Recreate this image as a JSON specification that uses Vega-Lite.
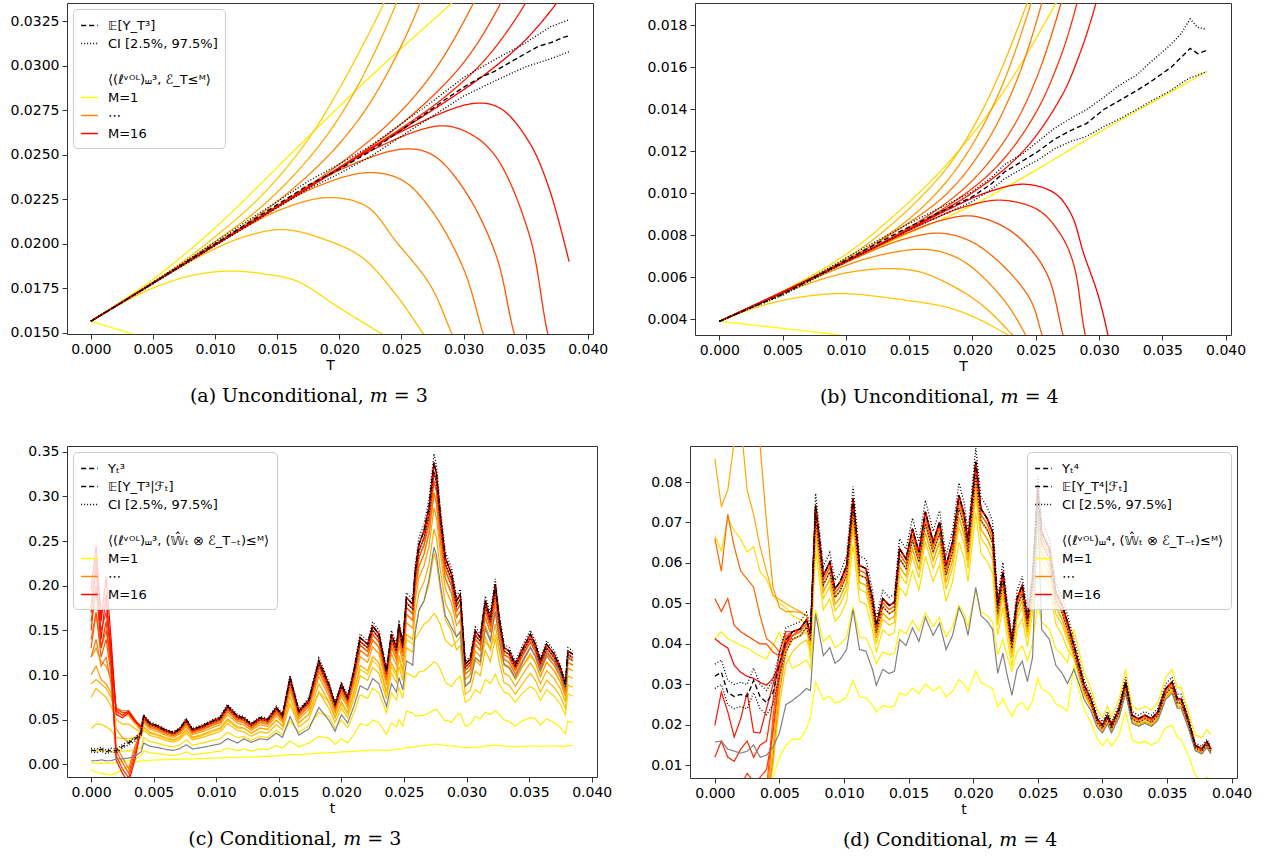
{
"$schema":"https://vega.github.io/schema/vega-lite/v6.json",
"padding":{"left":9,"top":2,"right":5,"bottom":5},
"config":{
"font":"DejaVu Sans",
"view":{"stroke":"#333333","strokeWidth":1},
"axis":{"labelFont":"DejaVu Sans","labelFontSize":14,"labelColor":"#000000","tickColor":"#333333","tickSize":5,"tickWidth":1,"labelPadding":3,"domain":false,"grid":false,"titleFont":"DejaVu Sans","titleFontSize":14,"titleFontWeight":"normal","titleColor":"#000000","titlePadding":2},
"legend":{"fillColor":"rgba(255,255,255,0.8)","strokeColor":"#cccccc","cornerRadius":4,"padding":7,"offset":6,"labelFont":"DejaVu Sans","labelFontSize":13,"labelColor":"#000000","symbolType":"stroke","symbolSize":280,"symbolStrokeWidth":1.5,"rowPadding":1,"labelLimit":400,"labelOffset":9},
"title":{"font":"DejaVu Serif","fontSize":19,"fontWeight":"normal","color":"#000000","orient":"bottom","anchor":"middle","frame":"bounds","offset":15}
},
"spacing":36,
"vconcat":[
{"hconcat":[
{"width":526,"height":331,
"title":{"text":"(a) Unconditional, 𝑚 = 3","orient":"bottom"},
"data":{"values":[
{"s":"e","t":0,"v":0.01565},{"s":"e","t":0.0025,"v":0.0167},{"s":"e","t":0.005,"v":0.0178},{"s":"e","t":0.0075,"v":0.0189},{"s":"e","t":0.01,"v":0.02},{"s":"e","t":0.0125,"v":0.0211},{"s":"e","t":0.015,"v":0.0222},{"s":"e","t":0.0175,"v":0.0233},{"s":"e","t":0.02,"v":0.0242},{"s":"e","t":0.0225,"v":0.0252},{"s":"e","t":0.025,"v":0.0264},{"s":"e","t":0.0275,"v":0.0276},{"s":"e","t":0.0285,"v":0.0281},{"s":"e","t":0.03,"v":0.0288},{"s":"e","t":0.0315,"v":0.0294},{"s":"e","t":0.0325,"v":0.0297},{"s":"e","t":0.0335,"v":0.0301},{"s":"e","t":0.035,"v":0.0307},{"s":"e","t":0.036,"v":0.0311},{"s":"e","t":0.037,"v":0.0313},{"s":"e","t":0.038,"v":0.0316},{"s":"e","t":0.0385,"v":0.0317},
{"s":"lo","t":0,"v":0.01565},{"s":"lo","t":0.0025,"v":0.01668},{"s":"lo","t":0.005,"v":0.01775},{"s":"lo","t":0.0075,"v":0.01882},{"s":"lo","t":0.01,"v":0.0199},{"s":"lo","t":0.0125,"v":0.02096},{"s":"lo","t":0.015,"v":0.02202},{"s":"lo","t":0.0175,"v":0.02308},{"s":"lo","t":0.02,"v":0.02395},{"s":"lo","t":0.0225,"v":0.0249},{"s":"lo","t":0.025,"v":0.02605},{"s":"lo","t":0.0275,"v":0.02718},{"s":"lo","t":0.03,"v":0.0283},{"s":"lo","t":0.0325,"v":0.02915},{"s":"lo","t":0.035,"v":0.02995},{"s":"lo","t":0.037,"v":0.0304},{"s":"lo","t":0.0385,"v":0.0308},
{"s":"hi","t":0,"v":0.01565},{"s":"hi","t":0.0025,"v":0.01672},{"s":"hi","t":0.005,"v":0.01785},{"s":"hi","t":0.0075,"v":0.01898},{"s":"hi","t":0.01,"v":0.0201},{"s":"hi","t":0.0125,"v":0.02124},{"s":"hi","t":0.015,"v":0.02238},{"s":"hi","t":0.0175,"v":0.02352},{"s":"hi","t":0.02,"v":0.02448},{"s":"hi","t":0.0225,"v":0.0255},{"s":"hi","t":0.025,"v":0.02675},{"s":"hi","t":0.0275,"v":0.028},{"s":"hi","t":0.03,"v":0.02935},{"s":"hi","t":0.0325,"v":0.03035},{"s":"hi","t":0.035,"v":0.0313},{"s":"hi","t":0.037,"v":0.0322},{"s":"hi","t":0.0385,"v":0.0326},
{"s":"m1","t":0,"v":0.01565},{"s":"m1","t":0.0035,"v":0.0149},{"s":"m1","t":0.006,"v":0.0144},
{"s":"m2","t":0,"v":0.01565},{"s":"m2","t":0.005,"v":0.018},{"s":"m2","t":0.01,"v":0.0209},{"s":"m2","t":0.0163,"v":0.0252},{"s":"m2","t":0.0225,"v":0.0294},{"s":"m2","t":0.029,"v":0.0335},{"s":"m2","t":0.031,"v":0.0348},
{"s":"m3","t":0,"v":0.01565},{"s":"m3","t":0.0028,"v":0.01678},{"s":"m3","t":0.0056,"v":0.01768},{"s":"m3","t":0.0084,"v":0.01826},{"s":"m3","t":0.0112,"v":0.01847},{"s":"m3","t":0.014,"v":0.0183},{"s":"m3","t":0.0166,"v":0.0179},{"s":"m3","t":0.02,"v":0.0164},{"s":"m3","t":0.0235,"v":0.0149},{"s":"m3","t":0.026,"v":0.0138},
{"s":"m4","t":0,"v":0.01565},{"s":"m4","t":0.006,"v":0.0183},{"s":"m4","t":0.01,"v":0.0204},{"s":"m4","t":0.014,"v":0.0229},{"s":"m4","t":0.018,"v":0.0264},{"s":"m4","t":0.0236,"v":0.03354},{"s":"m4","t":0.025,"v":0.0359},
{"s":"m5","t":0,"v":0.01565},{"s":"m5","t":0.0031,"v":0.017},{"s":"m5","t":0.0062,"v":0.01829},{"s":"m5","t":0.0093,"v":0.01949},{"s":"m5","t":0.0124,"v":0.02041},{"s":"m5","t":0.0155,"v":0.0208},{"s":"m5","t":0.019,"v":0.0202},{"s":"m5","t":0.0219,"v":0.0192},{"s":"m5","t":0.0246,"v":0.0171},{"s":"m5","t":0.0268,"v":0.0149},{"s":"m5","t":0.029,"v":0.0125},
{"s":"m6","t":0,"v":0.01565},{"s":"m6","t":0.005,"v":0.0178},{"s":"m6","t":0.01,"v":0.02013},{"s":"m6","t":0.014,"v":0.02225},{"s":"m6","t":0.018,"v":0.02519},{"s":"m6","t":0.021,"v":0.02827},{"s":"m6","t":0.0246,"v":0.03354},{"s":"m6","t":0.026,"v":0.0365},
{"s":"m7","t":0,"v":0.01565},{"s":"m7","t":0.0077,"v":0.01896},{"s":"m7","t":0.0115,"v":0.02055},{"s":"m7","t":0.0153,"v":0.02193},{"s":"m7","t":0.0191,"v":0.0226},{"s":"m7","t":0.0222,"v":0.0221},{"s":"m7","t":0.0246,"v":0.0201},{"s":"m7","t":0.0273,"v":0.0177},{"s":"m7","t":0.0291,"v":0.0149},{"s":"m7","t":0.031,"v":0.012},
{"s":"m8","t":0,"v":0.01565},{"s":"m8","t":0.012,"v":0.0209},{"s":"m8","t":0.016,"v":0.02294},{"s":"m8","t":0.02,"v":0.02563},{"s":"m8","t":0.023,"v":0.02852},{"s":"m8","t":0.0265,"v":0.03354},{"s":"m8","t":0.028,"v":0.037},
{"s":"m9","t":0,"v":0.01565},{"s":"m9","t":0.0089,"v":0.01948},{"s":"m9","t":0.0133,"v":0.02135},{"s":"m9","t":0.0178,"v":0.0231},{"s":"m9","t":0.0222,"v":0.024},{"s":"m9","t":0.025,"v":0.0236},{"s":"m9","t":0.0273,"v":0.022},{"s":"m9","t":0.03,"v":0.0186},{"s":"m9","t":0.0316,"v":0.0149},{"s":"m9","t":0.033,"v":0.012},
{"s":"m10","t":0,"v":0.01565},{"s":"m10","t":0.016,"v":0.02258},{"s":"m10","t":0.02,"v":0.02448},{"s":"m10","t":0.024,"v":0.02678},{"s":"m10","t":0.0275,"v":0.02958},{"s":"m10","t":0.0308,"v":0.03354},{"s":"m10","t":0.032,"v":0.0355},
{"s":"m11","t":0,"v":0.01565},{"s":"m11","t":0.0101,"v":0.01999},{"s":"m11","t":0.0151,"v":0.0221},{"s":"m11","t":0.0202,"v":0.0242},{"s":"m11","t":0.0252,"v":0.02533},{"s":"m11","t":0.0275,"v":0.025},{"s":"m11","t":0.03,"v":0.0231},{"s":"m11","t":0.0326,"v":0.0194},{"s":"m11","t":0.0341,"v":0.0149},{"s":"m11","t":0.0355,"v":0.012},
{"s":"m12","t":0,"v":0.01565},{"s":"m12","t":0.02,"v":0.0243},{"s":"m12","t":0.025,"v":0.02675},{"s":"m12","t":0.029,"v":0.02936},{"s":"m12","t":0.031,"v":0.03115},{"s":"m12","t":0.033,"v":0.03354},{"s":"m12","t":0.034,"v":0.035},
{"s":"m13","t":0,"v":0.01565},{"s":"m13","t":0.0112,"v":0.02047},{"s":"m13","t":0.0169,"v":0.02292},{"s":"m13","t":0.0225,"v":0.02523},{"s":"m13","t":0.0281,"v":0.02663},{"s":"m13","t":0.0305,"v":0.0262},{"s":"m13","t":0.0326,"v":0.0249},{"s":"m13","t":0.0353,"v":0.0205},{"s":"m13","t":0.0368,"v":0.0149},{"s":"m13","t":0.038,"v":0.012},
{"s":"m14","t":0,"v":0.01565},{"s":"m14","t":0.025,"v":0.0265},{"s":"m14","t":0.029,"v":0.02855},{"s":"m14","t":0.032,"v":0.03057},{"s":"m14","t":0.035,"v":0.03354},{"s":"m14","t":0.036,"v":0.035},
{"s":"m15","t":0,"v":0.01565},{"s":"m15","t":0.0124,"v":0.02098},{"s":"m15","t":0.0185,"v":0.02361},{"s":"m15","t":0.0247,"v":0.02621},{"s":"m15","t":0.0309,"v":0.0279},{"s":"m15","t":0.033,"v":0.0276},{"s":"m15","t":0.0353,"v":0.0257},{"s":"m15","t":0.0369,"v":0.0231},{"s":"m15","t":0.0385,"v":0.019},
{"s":"m16","t":0,"v":0.01565},{"s":"m16","t":0.028,"v":0.02774},{"s":"m16","t":0.032,"v":0.02967},{"s":"m16","t":0.035,"v":0.03147},{"s":"m16","t":0.0375,"v":0.03354},{"s":"m16","t":0.0385,"v":0.0346}
]},
"encoding":{
"x":{"field":"t","type":"quantitative","scale":{"domain":[-0.001925,0.040425],"nice":false,"zero":false},"axis":{"values":[0,0.005,0.01,0.015,0.02,0.025,0.03,0.035,0.04],"format":".3f","title":"T"}},
"y":{"field":"v","type":"quantitative","scale":{"domain":[0.01493,0.03354],"nice":false,"zero":false},"axis":{"values":[0.015,0.0175,0.02,0.0225,0.025,0.0275,0.03,0.0325],"format":".4f","title":null}},
"color":{"field":"s","type":"nominal","scale":{"domain":["e","lo","hi","sp","tt","m1","m2","m3","m4","m5","m6","m7","m8","m9","m10","m11","m12","m13","m14","m15","m16"],"range":["#000000","#000000","#000000","rgba(0,0,0,0)","rgba(0,0,0,0)","#ffff00","#ffee00","#ffdd00","#ffcc00","#ffbb00","#ffaa00","#ff9900","#ff8800","#ff7700","#ff6600","#ff5500","#ff4400","#ff3300","#ff2200","#ff1100","#ff0000"]},
"legend":{"title":null,"orient":"top-left","values":["e","lo","sp","tt","m1","m8","m16"],"labelExpr":"datum.label=='e'?'𝔼[Y_T³]':datum.label=='lo'?'CI [2.5%, 97.5%]':datum.label=='sp'?'':datum.label=='tt'?'⟨(ℓᵛᴼᴸ)⧢³, ℰ_T≤ᴹ⟩':datum.label=='m8'?'⋯':datum.label=='m1'?'M=1':datum.label=='m16'?'M=16':datum.label"}},
"strokeDash":{"field":"s","type":"nominal","scale":{"domain":["e","lo","hi","sp","tt","m1","m2","m3","m4","m5","m6","m7","m8","m9","m10","m11","m12","m13","m14","m15","m16"],"range":[[5,3],[1,2],[1,2],[1,0],[1,0],[1,0],[1,0],[1,0],[1,0],[1,0],[1,0],[1,0],[1,0],[1,0],[1,0],[1,0],[1,0],[1,0],[1,0],[1,0],[1,0]]},
"legend":{"title":null,"orient":"top-left","values":["e","lo","sp","tt","m1","m8","m16"],"labelExpr":"datum.label=='e'?'𝔼[Y_T³]':datum.label=='lo'?'CI [2.5%, 97.5%]':datum.label=='sp'?'':datum.label=='tt'?'⟨(ℓᵛᴼᴸ)⧢³, ℰ_T≤ᴹ⟩':datum.label=='m8'?'⋯':datum.label=='m1'?'M=1':datum.label=='m16'?'M=16':datum.label"}}
},
"layer":[
{"transform":[{"filter":{"field":"s","oneOf":["m1","m2","m3","m4","m5","m6","m7","m8","m9","m10","m11","m12","m13","m14","m15","m16"]}}],"mark":{"type":"line","clip":true,"interpolate":"catmull-rom","strokeWidth":1.3}},
{"transform":[{"filter":{"field":"s","oneOf":["lo","hi","e"]}}],"mark":{"type":"line","clip":true,"strokeWidth":1.4}}
]},
{"width":536,"height":332,
"title":{"text":"(b) Unconditional, 𝑚 = 4","orient":"bottom","dx":-7},
"data":{"values":[
{"s":"e","t":0,"v":0.0039},{"s":"e","t":0.0025,"v":0.00455},{"s":"e","t":0.005,"v":0.00518},{"s":"e","t":0.0075,"v":0.00598},{"s":"e","t":0.01,"v":0.00682},{"s":"e","t":0.0125,"v":0.00762},{"s":"e","t":0.015,"v":0.0084},{"s":"e","t":0.0175,"v":0.00912},{"s":"e","t":0.0199,"v":0.0098},{"s":"e","t":0.0215,"v":0.01045},{"s":"e","t":0.0225,"v":0.011},{"s":"e","t":0.024,"v":0.01155},{"s":"e","t":0.0252,"v":0.012},{"s":"e","t":0.0265,"v":0.01258},{"s":"e","t":0.0278,"v":0.013},{"s":"e","t":0.029,"v":0.01332},{"s":"e","t":0.0304,"v":0.014},{"s":"e","t":0.0315,"v":0.01438},{"s":"e","t":0.033,"v":0.0149},{"s":"e","t":0.034,"v":0.01528},{"s":"e","t":0.0357,"v":0.016},{"s":"e","t":0.0365,"v":0.01648},{"s":"e","t":0.0372,"v":0.0169},{"s":"e","t":0.0378,"v":0.01665},{"s":"e","t":0.0385,"v":0.0168},
{"s":"lo","t":0,"v":0.0039},{"s":"lo","t":0.0025,"v":0.00453},{"s":"lo","t":0.005,"v":0.00514},{"s":"lo","t":0.0075,"v":0.00592},{"s":"lo","t":0.01,"v":0.00673},{"s":"lo","t":0.0125,"v":0.0075},{"s":"lo","t":0.015,"v":0.00825},{"s":"lo","t":0.0175,"v":0.00893},{"s":"lo","t":0.0199,"v":0.00958},{"s":"lo","t":0.0215,"v":0.01018},{"s":"lo","t":0.0225,"v":0.01068},{"s":"lo","t":0.024,"v":0.0112},{"s":"lo","t":0.0252,"v":0.0116},{"s":"lo","t":0.0265,"v":0.01212},{"s":"lo","t":0.0278,"v":0.01248},{"s":"lo","t":0.029,"v":0.0127},{"s":"lo","t":0.0304,"v":0.01318},{"s":"lo","t":0.0315,"v":0.0135},{"s":"lo","t":0.033,"v":0.014},{"s":"lo","t":0.034,"v":0.01435},{"s":"lo","t":0.0357,"v":0.0149},{"s":"lo","t":0.0365,"v":0.01525},{"s":"lo","t":0.0372,"v":0.0155},{"s":"lo","t":0.0378,"v":0.01562},{"s":"lo","t":0.0385,"v":0.0158},
{"s":"hi","t":0,"v":0.0039},{"s":"hi","t":0.0025,"v":0.00457},{"s":"hi","t":0.005,"v":0.00522},{"s":"hi","t":0.0075,"v":0.00604},{"s":"hi","t":0.01,"v":0.00692},{"s":"hi","t":0.0125,"v":0.00775},{"s":"hi","t":0.015,"v":0.00856},{"s":"hi","t":0.0175,"v":0.00932},{"s":"hi","t":0.0199,"v":0.01005},{"s":"hi","t":0.0215,"v":0.01075},{"s":"hi","t":0.0225,"v":0.01135},{"s":"hi","t":0.024,"v":0.0119},{"s":"hi","t":0.0252,"v":0.01248},{"s":"hi","t":0.0265,"v":0.0131},{"s":"hi","t":0.0278,"v":0.01358},{"s":"hi","t":0.029,"v":0.01398},{"s":"hi","t":0.0304,"v":0.01458},{"s":"hi","t":0.0315,"v":0.0151},{"s":"hi","t":0.033,"v":0.01565},{"s":"hi","t":0.034,"v":0.0162},{"s":"hi","t":0.0357,"v":0.0171},{"s":"hi","t":0.0365,"v":0.01762},{"s":"hi","t":0.0372,"v":0.0183},{"s":"hi","t":0.0378,"v":0.0179},{"s":"hi","t":0.0385,"v":0.0178},
{"s":"m1","t":0,"v":0.0039},{"s":"m1","t":0.0089,"v":0.00329},{"s":"m1","t":0.011,"v":0.0031},
{"s":"m2","t":0,"v":0.0039},{"s":"m2","t":0.005,"v":0.0052},{"s":"m2","t":0.01,"v":0.0067},{"s":"m2","t":0.015,"v":0.0081},{"s":"m2","t":0.0199,"v":0.0094},{"s":"m2","t":0.025,"v":0.0111},{"s":"m2","t":0.03,"v":0.0129},{"s":"m2","t":0.035,"v":0.0146},{"s":"m2","t":0.0385,"v":0.0158},
{"s":"m3","t":0,"v":0.0039},{"s":"m3","t":0.005,"v":0.00533},{"s":"m3","t":0.01,"v":0.00709},{"s":"m3","t":0.014,"v":0.00904},{"s":"m3","t":0.018,"v":0.0114},{"s":"m3","t":0.022,"v":0.01443},{"s":"m3","t":0.0266,"v":0.01906},{"s":"m3","t":0.028,"v":0.0207},
{"s":"m4","t":0,"v":0.0039},{"s":"m4","t":0.0025,"v":0.00448},{"s":"m4","t":0.005,"v":0.0049},{"s":"m4","t":0.0075,"v":0.00514},{"s":"m4","t":0.00993,"v":0.00522},{"s":"m4","t":0.0142,"v":0.00495},{"s":"m4","t":0.0181,"v":0.00455},{"s":"m4","t":0.0205,"v":0.004},{"s":"m4","t":0.0228,"v":0.00325},{"s":"m4","t":0.025,"v":0.0025},
{"s":"m5","t":0,"v":0.0039},{"s":"m5","t":0.005,"v":0.0053},{"s":"m5","t":0.01,"v":0.00689},{"s":"m5","t":0.014,"v":0.00872},{"s":"m5","t":0.018,"v":0.01123},{"s":"m5","t":0.021,"v":0.01421},{"s":"m5","t":0.02432,"v":0.01906},{"s":"m5","t":0.0255,"v":0.0213},
{"s":"m6","t":0,"v":0.0039},{"s":"m6","t":0.0033,"v":0.0048},{"s":"m6","t":0.0065,"v":0.00558},{"s":"m6","t":0.0098,"v":0.00618},{"s":"m6","t":0.01308,"v":0.00641},{"s":"m6","t":0.0155,"v":0.0063},{"s":"m6","t":0.0175,"v":0.00587},{"s":"m6","t":0.0205,"v":0.0048},{"s":"m6","t":0.0234,"v":0.0031},{"s":"m6","t":0.025,"v":0.002},
{"s":"m7","t":0,"v":0.0039},{"s":"m7","t":0.006,"v":0.00557},{"s":"m7","t":0.012,"v":0.0075},{"s":"m7","t":0.016,"v":0.00931},{"s":"m7","t":0.019,"v":0.01139},{"s":"m7","t":0.022,"v":0.01465},{"s":"m7","t":0.02463,"v":0.01906},{"s":"m7","t":0.0258,"v":0.0217},
{"s":"m8","t":0,"v":0.0039},{"s":"m8","t":0.004,"v":0.005},{"s":"m8","t":0.008,"v":0.00608},{"s":"m8","t":0.012,"v":0.00695},{"s":"m8","t":0.01597,"v":0.00733},{"s":"m8","t":0.0181,"v":0.0071},{"s":"m8","t":0.0199,"v":0.0065},{"s":"m8","t":0.0225,"v":0.0049},{"s":"m8","t":0.0242,"v":0.00325},{"s":"m8","t":0.0255,"v":0.0015},
{"s":"m9","t":0,"v":0.0039},{"s":"m9","t":0.007,"v":0.00586},{"s":"m9","t":0.014,"v":0.00822},{"s":"m9","t":0.018,"v":0.01},{"s":"m9","t":0.021,"v":0.01231},{"s":"m9","t":0.0235,"v":0.01538},{"s":"m9","t":0.02548,"v":0.01906},{"s":"m9","t":0.0265,"v":0.0215},
{"s":"m10","t":0,"v":0.0039},{"s":"m10","t":0.0044,"v":0.00512},{"s":"m10","t":0.0088,"v":0.00637},{"s":"m10","t":0.0131,"v":0.00751},{"s":"m10","t":0.0153,"v":0.00793},{"s":"m10","t":0.0175,"v":0.0081},{"s":"m10","t":0.0199,"v":0.0077},{"s":"m10","t":0.0225,"v":0.0065},{"s":"m10","t":0.0246,"v":0.0049},{"s":"m10","t":0.0255,"v":0.00325},{"s":"m10","t":0.0265,"v":0.0015},
{"s":"m11","t":0,"v":0.0039},{"s":"m11","t":0.008,"v":0.00616},{"s":"m11","t":0.016,"v":0.00874},{"s":"m11","t":0.02,"v":0.01061},{"s":"m11","t":0.023,"v":0.01294},{"s":"m11","t":0.025,"v":0.0154},{"s":"m11","t":0.027,"v":0.01906},{"s":"m11","t":0.028,"v":0.0215},
{"s":"m12","t":0,"v":0.0039},{"s":"m12","t":0.005,"v":0.00527},{"s":"m12","t":0.01,"v":0.00673},{"s":"m12","t":0.015,"v":0.00815},{"s":"m12","t":0.0175,"v":0.0087},{"s":"m12","t":0.0199,"v":0.00892},{"s":"m12","t":0.0225,"v":0.0084},{"s":"m12","t":0.0245,"v":0.0074},{"s":"m12","t":0.026,"v":0.006},{"s":"m12","t":0.02705,"v":0.0035},{"s":"m12","t":0.0278,"v":0.0015},
{"s":"m13","t":0,"v":0.0039},{"s":"m13","t":0.009,"v":0.00645},{"s":"m13","t":0.018,"v":0.00938},{"s":"m13","t":0.022,"v":0.01132},{"s":"m13","t":0.025,"v":0.01383},{"s":"m13","t":0.027,"v":0.01656},{"s":"m13","t":0.02826,"v":0.01906},{"s":"m13","t":0.0292,"v":0.0214},
{"s":"m14","t":0,"v":0.0039},{"s":"m14","t":0.0055,"v":0.0054},{"s":"m14","t":0.011,"v":0.00705},{"s":"m14","t":0.0167,"v":0.00872},{"s":"m14","t":0.0195,"v":0.00938},{"s":"m14","t":0.02227,"v":0.00967},{"s":"m14","t":0.0252,"v":0.0092},{"s":"m14","t":0.027,"v":0.008},{"s":"m14","t":0.028,"v":0.0066},{"s":"m14","t":0.0288,"v":0.0036},{"s":"m14","t":0.0295,"v":0.0015},
{"s":"m15","t":0,"v":0.0039},{"s":"m15","t":0.01,"v":0.00675},{"s":"m15","t":0.02,"v":0.01003},{"s":"m15","t":0.024,"v":0.012},{"s":"m15","t":0.027,"v":0.01458},{"s":"m15","t":0.0285,"v":0.01668},{"s":"m15","t":0.02976,"v":0.01906},{"s":"m15","t":0.0307,"v":0.0214},
{"s":"m16","t":0,"v":0.0039},{"s":"m16","t":0.006,"v":0.0056},{"s":"m16","t":0.012,"v":0.00735},{"s":"m16","t":0.0181,"v":0.00923},{"s":"m16","t":0.0211,"v":0.01003},{"s":"m16","t":0.02411,"v":0.01043},{"s":"m16","t":0.0265,"v":0.01},{"s":"m16","t":0.0278,"v":0.009},{"s":"m16","t":0.0288,"v":0.0071},{"s":"m16","t":0.0299,"v":0.0052},{"s":"m16","t":0.0307,"v":0.00325},{"s":"m16","t":0.0312,"v":0.0015}
]},
"encoding":{
"x":{"field":"t","type":"quantitative","scale":{"domain":[-0.001925,0.040425],"nice":false,"zero":false},"axis":{"values":[0,0.005,0.01,0.015,0.02,0.025,0.03,0.035,0.04],"format":".3f","title":"T"}},
"y":{"field":"v","type":"quantitative","scale":{"domain":[0.00325,0.01906],"nice":false,"zero":false},"axis":{"values":[0.004,0.006,0.008,0.01,0.012,0.014,0.016,0.018],"format":".3f","title":null}},
"color":{"field":"s","type":"nominal","scale":{"domain":["e","lo","hi","sp","tt","m1","m2","m3","m4","m5","m6","m7","m8","m9","m10","m11","m12","m13","m14","m15","m16"],"range":["#000000","#000000","#000000","rgba(0,0,0,0)","rgba(0,0,0,0)","#ffff00","#ffee00","#ffdd00","#ffcc00","#ffbb00","#ffaa00","#ff9900","#ff8800","#ff7700","#ff6600","#ff5500","#ff4400","#ff3300","#ff2200","#ff1100","#ff0000"]},
"legend":{"title":null,"orient":"top-left","values":["e","lo","sp","tt","m1","m8","m16"],"labelExpr":"datum.label=='e'?'𝔼[Y_T⁴]':datum.label=='lo'?'CI [2.5%, 97.5%]':datum.label=='sp'?'':datum.label=='tt'?'⟨(ℓᵛᴼᴸ)⧢⁴, ℰ_T≤ᴹ⟩':datum.label=='m8'?'⋯':datum.label=='m1'?'M=1':datum.label=='m16'?'M=16':datum.label"}},
"strokeDash":{"field":"s","type":"nominal","scale":{"domain":["e","lo","hi","sp","tt","m1","m2","m3","m4","m5","m6","m7","m8","m9","m10","m11","m12","m13","m14","m15","m16"],"range":[[5,3],[1,2],[1,2],[1,0],[1,0],[1,0],[1,0],[1,0],[1,0],[1,0],[1,0],[1,0],[1,0],[1,0],[1,0],[1,0],[1,0],[1,0],[1,0],[1,0],[1,0]]},
"legend":{"title":null,"orient":"top-left","values":["e","lo","sp","tt","m1","m8","m16"],"labelExpr":"datum.label=='e'?'𝔼[Y_T⁴]':datum.label=='lo'?'CI [2.5%, 97.5%]':datum.label=='sp'?'':datum.label=='tt'?'⟨(ℓᵛᴼᴸ)⧢⁴, ℰ_T≤ᴹ⟩':datum.label=='m8'?'⋯':datum.label=='m1'?'M=1':datum.label=='m16'?'M=16':datum.label"}}
},
"layer":[
{"transform":[{"filter":{"field":"s","oneOf":["m1","m2","m3","m4","m5","m6","m7","m8","m9","m10","m11","m12","m13","m14","m15","m16"]}}],"mark":{"type":"line","clip":true,"interpolate":"catmull-rom","strokeWidth":1.3}},
{"transform":[{"filter":{"field":"s","oneOf":["lo","hi","e"]}}],"mark":{"type":"line","clip":true,"strokeWidth":1.4}}
]}
],"spacing":37},
{"hconcat":[
{"width":530,"height":331,
"title":{"text":"(c) Conditional, 𝑚 = 3","orient":"bottom","dx":-25},
"data":{"values":[
{"t":0,"e":0.016,"lo":0.014,"hi":0.018,"g":0.004,"m1":-0.006,"m2":0.002,"m3":0.015,"m4":0.04,"m5":0.075,"m6":0.09,"m7":0.1,"m8":0.12,"m9":0.12,"m10":0.14,"m11":0.13,"m12":0.16,"m13":0.15,"m14":0.175,"m15":0.17,"m16":0.195},
{"t":0.0004,"e":0.015,"lo":0.013,"hi":0.017,"g":0.004,"m1":-0.009,"m2":0.001,"m3":0.016,"m4":0.045,"m5":0.085,"m6":0.095,"m7":0.11,"m8":0.13,"m9":0.14,"m10":0.17,"m11":0.17,"m12":0.2,"m13":0.2,"m14":0.23,"m15":0.22,"m16":0.245},
{"t":0.0008,"e":0.017,"lo":0.015,"hi":0.019,"g":0.005,"m1":-0.01,"m2":0.001,"m3":0.015,"m4":0.045,"m5":0.08,"m6":0.09,"m7":0.095,"m8":0.115,"m9":0.11,"m10":0.13,"m11":0.12,"m12":0.15,"m13":0.13,"m14":0.17,"m15":0.14,"m16":0.16},
{"t":0.0012,"e":0.014,"lo":0.012,"hi":0.016,"g":0.004,"m1":-0.011,"m2":0.0015,"m3":0.015,"m4":0.042,"m5":0.075,"m6":0.085,"m7":0.09,"m8":0.11,"m9":0.12,"m10":0.15,"m11":0.14,"m12":0.17,"m13":0.16,"m14":0.18,"m15":0.19,"m16":0.21},
{"t":0.0016,"e":0.016,"lo":0.014,"hi":0.018,"g":0.004,"m1":-0.012,"m2":0.001,"m3":0.014,"m4":0.038,"m5":0.065,"m6":0.075,"m7":0.08,"m8":0.095,"m9":0.09,"m10":0.11,"m11":0.1,"m12":0.12,"m13":0.11,"m14":0.13,"m15":0.12,"m16":0.14},
{"t":0.002,"e":0.015,"lo":0.013,"hi":0.017,"g":0.006,"m1":-0.01,"m2":0.002,"m3":0.014,"m4":0.03,"m5":0.05,"m6":0.058,"m7":0.04,"m8":0.062,"m9":0.02,"m10":0.063,"m11":0.015,"m12":0.062,"m13":0.01,"m14":0.06,"m15":0.005,"m16":0.056},
{"t":0.0025,"e":0.02,"lo":0.018,"hi":0.022,"g":0.006,"m1":-0.006,"m2":0.003,"m3":0.015,"m4":0.029,"m5":0.045,"m6":0.055,"m7":0.03,"m8":0.058,"m9":0.008,"m10":0.06,"m11":0.002,"m12":0.058,"m13":-0.005,"m14":0.055,"m15":-0.01,"m16":0.052},
{"t":0.003,"e":0.024,"lo":0.022,"hi":0.026,"g":0.007,"m1":-0.002,"m2":0.004,"m3":0.015,"m4":0.029,"m5":0.045,"m6":0.054,"m7":0.025,"m8":0.056,"m9":-0.005,"m10":0.06,"m11":-0.01,"m12":0.058,"m13":-0.015,"m14":0.06,"m15":-0.02,"m16":0.058},
{"t":0.0035,"e":0.028,"lo":0.026,"hi":0.03,"g":0.009,"m1":0.002,"m2":0.006,"m3":0.016,"m4":0.03,"m5":0.04,"m6":0.046,"m7":0.03,"m8":0.048,"m9":0.02,"m10":0.05,"m11":0.015,"m12":0.048,"m13":0.01,"m14":0.05,"m15":0.005,"m16":0.048},
{"t":0.004,"e":0.034,"lo":0.032,"hi":0.036,"g":0.014,"m1":0.004,"m2":0.01,"m3":0.018,"m4":0.03,"m5":0.035,"m6":0.037,"m7":0.036,"m8":0.039,"m9":0.037,"m10":0.04,"m11":0.038,"m12":0.041,"m13":0.039,"m14":0.042,"m15":0.04,"m16":0.042},
{"t":0.0042,"e":0.054,"lo":0.0524,"hi":0.0556,"g":0.0238,"m1":0.004,"m2":0.0151,"m3":0.0297,"m4":0.0405,"m5":0.0378,"m6":0.0421,"m7":0.0459,"m8":0.0486,"m9":0.0486,"m10":0.0508,"m11":0.0508,"m12":0.0524,"m13":0.0524,"m14":0.054,"m15":0.054,"m16":0.054},
{"t":0.0047,"e":0.046,"lo":0.0446,"hi":0.0474,"g":0.0202,"m1":0.0045,"m2":0.0129,"m3":0.0253,"m4":0.0345,"m5":0.0322,"m6":0.0359,"m7":0.0391,"m8":0.0414,"m9":0.0414,"m10":0.0432,"m11":0.0432,"m12":0.0446,"m13":0.0446,"m14":0.046,"m15":0.046,"m16":0.046},
{"t":0.0053,"e":0.043,"lo":0.0417,"hi":0.0443,"g":0.0189,"m1":0.005,"m2":0.012,"m3":0.0237,"m4":0.0323,"m5":0.0301,"m6":0.0335,"m7":0.0366,"m8":0.0387,"m9":0.0387,"m10":0.0404,"m11":0.0404,"m12":0.0417,"m13":0.0417,"m14":0.043,"m15":0.043,"m16":0.043},
{"t":0.006,"e":0.038,"lo":0.0369,"hi":0.0391,"g":0.0167,"m1":0.0052,"m2":0.0106,"m3":0.0209,"m4":0.0285,"m5":0.0266,"m6":0.0296,"m7":0.0323,"m8":0.0342,"m9":0.0342,"m10":0.0357,"m11":0.0357,"m12":0.0369,"m13":0.0369,"m14":0.038,"m15":0.038,"m16":0.038},
{"t":0.0066,"e":0.0354,"lo":0.0343,"hi":0.0365,"g":0.0156,"m1":0.0055,"m2":0.0099,"m3":0.0195,"m4":0.0266,"m5":0.0248,"m6":0.0276,"m7":0.0301,"m8":0.0319,"m9":0.0319,"m10":0.0333,"m11":0.0333,"m12":0.0343,"m13":0.0343,"m14":0.0354,"m15":0.0354,"m16":0.0354},
{"t":0.0071,"e":0.04,"lo":0.0388,"hi":0.0412,"g":0.0176,"m1":0.0057,"m2":0.0112,"m3":0.022,"m4":0.03,"m5":0.028,"m6":0.0312,"m7":0.034,"m8":0.036,"m9":0.036,"m10":0.0376,"m11":0.0376,"m12":0.0388,"m13":0.0388,"m14":0.04,"m15":0.04,"m16":0.04},
{"t":0.0076,"e":0.05,"lo":0.0485,"hi":0.0515,"g":0.022,"m1":0.006,"m2":0.014,"m3":0.0275,"m4":0.0375,"m5":0.035,"m6":0.039,"m7":0.0425,"m8":0.045,"m9":0.045,"m10":0.047,"m11":0.047,"m12":0.0485,"m13":0.0485,"m14":0.05,"m15":0.05,"m16":0.05},
{"t":0.0081,"e":0.039,"lo":0.0378,"hi":0.0402,"g":0.0172,"m1":0.006,"m2":0.0109,"m3":0.0215,"m4":0.0293,"m5":0.0273,"m6":0.0304,"m7":0.0332,"m8":0.0351,"m9":0.0351,"m10":0.0367,"m11":0.0367,"m12":0.0378,"m13":0.0378,"m14":0.039,"m15":0.039,"m16":0.039},
{"t":0.0089,"e":0.043,"lo":0.0417,"hi":0.0443,"g":0.0189,"m1":0.0065,"m2":0.012,"m3":0.0237,"m4":0.0323,"m5":0.0301,"m6":0.0335,"m7":0.0366,"m8":0.0387,"m9":0.0387,"m10":0.0404,"m11":0.0404,"m12":0.0417,"m13":0.0417,"m14":0.043,"m15":0.043,"m16":0.043},
{"t":0.0097,"e":0.0485,"lo":0.047,"hi":0.05,"g":0.0213,"m1":0.007,"m2":0.0136,"m3":0.0267,"m4":0.0364,"m5":0.034,"m6":0.0378,"m7":0.0412,"m8":0.0437,"m9":0.0437,"m10":0.0456,"m11":0.0456,"m12":0.047,"m13":0.047,"m14":0.0485,"m15":0.0485,"m16":0.0485},
{"t":0.0103,"e":0.052,"lo":0.0504,"hi":0.0536,"g":0.0229,"m1":0.0072,"m2":0.0146,"m3":0.0286,"m4":0.039,"m5":0.0364,"m6":0.0406,"m7":0.0442,"m8":0.0468,"m9":0.0468,"m10":0.0489,"m11":0.0489,"m12":0.0504,"m13":0.0504,"m14":0.052,"m15":0.052,"m16":0.052},
{"t":0.0109,"e":0.0653,"lo":0.0633,"hi":0.0673,"g":0.0287,"m1":0.0075,"m2":0.0183,"m3":0.0359,"m4":0.049,"m5":0.0457,"m6":0.0509,"m7":0.0555,"m8":0.0588,"m9":0.0588,"m10":0.0614,"m11":0.0614,"m12":0.0633,"m13":0.0633,"m14":0.0653,"m15":0.0653,"m16":0.0653},
{"t":0.0117,"e":0.054,"lo":0.0524,"hi":0.0556,"g":0.0238,"m1":0.0078,"m2":0.0151,"m3":0.0297,"m4":0.0405,"m5":0.0378,"m6":0.0421,"m7":0.0459,"m8":0.0486,"m9":0.0486,"m10":0.0508,"m11":0.0508,"m12":0.0524,"m13":0.0524,"m14":0.054,"m15":0.054,"m16":0.054},
{"t":0.0122,"e":0.052,"lo":0.0504,"hi":0.0536,"g":0.0286,"m1":0.008,"m2":0.0172,"m3":0.0312,"m4":0.0406,"m5":0.0364,"m6":0.0406,"m7":0.0442,"m8":0.0468,"m9":0.0468,"m10":0.0489,"m11":0.0489,"m12":0.0504,"m13":0.0504,"m14":0.052,"m15":0.052,"m16":0.052},
{"t":0.0128,"e":0.0448,"lo":0.0435,"hi":0.0461,"g":0.0246,"m1":0.008,"m2":0.0148,"m3":0.0269,"m4":0.0349,"m5":0.0314,"m6":0.0349,"m7":0.0381,"m8":0.0403,"m9":0.0403,"m10":0.0421,"m11":0.0421,"m12":0.0435,"m13":0.0435,"m14":0.0448,"m15":0.0448,"m16":0.0448},
{"t":0.0135,"e":0.052,"lo":0.0504,"hi":0.0536,"g":0.0286,"m1":0.0085,"m2":0.0172,"m3":0.0312,"m4":0.0406,"m5":0.0364,"m6":0.0406,"m7":0.0442,"m8":0.0468,"m9":0.0468,"m10":0.0489,"m11":0.0489,"m12":0.0504,"m13":0.0504,"m14":0.052,"m15":0.052,"m16":0.052},
{"t":0.0141,"e":0.05,"lo":0.0485,"hi":0.0515,"g":0.0275,"m1":0.009,"m2":0.0165,"m3":0.03,"m4":0.039,"m5":0.035,"m6":0.039,"m7":0.0425,"m8":0.045,"m9":0.045,"m10":0.047,"m11":0.047,"m12":0.0485,"m13":0.0485,"m14":0.05,"m15":0.05,"m16":0.05},
{"t":0.0148,"e":0.0634,"lo":0.0615,"hi":0.0653,"g":0.0349,"m1":0.0095,"m2":0.0209,"m3":0.038,"m4":0.0495,"m5":0.0444,"m6":0.0495,"m7":0.0539,"m8":0.0571,"m9":0.0571,"m10":0.0596,"m11":0.0596,"m12":0.0615,"m13":0.0615,"m14":0.0634,"m15":0.0634,"m16":0.0634},
{"t":0.0153,"e":0.055,"lo":0.0534,"hi":0.0567,"g":0.0303,"m1":0.01,"m2":0.0182,"m3":0.033,"m4":0.0429,"m5":0.0385,"m6":0.0429,"m7":0.0468,"m8":0.0495,"m9":0.0495,"m10":0.0517,"m11":0.0517,"m12":0.0534,"m13":0.0534,"m14":0.055,"m15":0.055,"m16":0.055},
{"t":0.0159,"e":0.097,"lo":0.0941,"hi":0.0999,"g":0.0534,"m1":0.011,"m2":0.0262,"m3":0.0485,"m4":0.068,"m5":0.0679,"m6":0.0757,"m7":0.0825,"m8":0.0873,"m9":0.0873,"m10":0.0912,"m11":0.0912,"m12":0.0941,"m13":0.0941,"m14":0.097,"m15":0.097,"m16":0.097},
{"t":0.0166,"e":0.0597,"lo":0.0579,"hi":0.0615,"g":0.0328,"m1":0.011,"m2":0.0197,"m3":0.0358,"m4":0.0466,"m5":0.0418,"m6":0.0466,"m7":0.0507,"m8":0.0537,"m9":0.0537,"m10":0.0561,"m11":0.0561,"m12":0.0579,"m13":0.0579,"m14":0.0597,"m15":0.0597,"m16":0.0597},
{"t":0.0174,"e":0.072,"lo":0.0698,"hi":0.0742,"g":0.0396,"m1":0.0115,"m2":0.0238,"m3":0.0432,"m4":0.0562,"m5":0.0504,"m6":0.0562,"m7":0.0612,"m8":0.0648,"m9":0.0648,"m10":0.0677,"m11":0.0677,"m12":0.0698,"m13":0.0698,"m14":0.072,"m15":0.072,"m16":0.072},
{"t":0.0182,"e":0.1157,"lo":0.1122,"hi":0.1192,"g":0.0636,"m1":0.0125,"m2":0.0312,"m3":0.0579,"m4":0.081,"m5":0.081,"m6":0.0902,"m7":0.0983,"m8":0.1041,"m9":0.1041,"m10":0.1088,"m11":0.1088,"m12":0.1122,"m13":0.1122,"m14":0.1157,"m15":0.1157,"m16":0.1157},
{"t":0.019,"e":0.0896,"lo":0.0869,"hi":0.0923,"g":0.0493,"m1":0.013,"m2":0.0296,"m3":0.0538,"m4":0.0699,"m5":0.0627,"m6":0.0699,"m7":0.0762,"m8":0.0806,"m9":0.0806,"m10":0.0842,"m11":0.0842,"m12":0.0869,"m13":0.0869,"m14":0.0896,"m15":0.0896,"m16":0.0896},
{"t":0.0195,"e":0.0672,"lo":0.0652,"hi":0.0692,"g":0.037,"m1":0.013,"m2":0.0222,"m3":0.0403,"m4":0.0524,"m5":0.047,"m6":0.0524,"m7":0.0571,"m8":0.0605,"m9":0.0605,"m10":0.0632,"m11":0.0632,"m12":0.0652,"m13":0.0652,"m14":0.0672,"m15":0.0672,"m16":0.0672},
{"t":0.02,"e":0.0896,"lo":0.0869,"hi":0.0923,"g":0.0556,"m1":0.014,"m2":0.0287,"m3":0.0493,"m4":0.0672,"m5":0.0627,"m6":0.0699,"m7":0.0762,"m8":0.0806,"m9":0.0806,"m10":0.0842,"m11":0.0842,"m12":0.0869,"m13":0.0869,"m14":0.0896,"m15":0.0896,"m16":0.0896},
{"t":0.0205,"e":0.0746,"lo":0.0724,"hi":0.0768,"g":0.0463,"m1":0.014,"m2":0.0239,"m3":0.041,"m4":0.056,"m5":0.0522,"m6":0.0582,"m7":0.0634,"m8":0.0671,"m9":0.0671,"m10":0.0701,"m11":0.0701,"m12":0.0724,"m13":0.0724,"m14":0.0746,"m15":0.0746,"m16":0.0746},
{"t":0.021,"e":0.1045,"lo":0.1014,"hi":0.1076,"g":0.0648,"m1":0.0145,"m2":0.0334,"m3":0.0575,"m4":0.0784,"m5":0.0732,"m6":0.0815,"m7":0.0888,"m8":0.0941,"m9":0.0941,"m10":0.0982,"m11":0.0982,"m12":0.1014,"m13":0.1014,"m14":0.1045,"m15":0.1045,"m16":0.1045},
{"t":0.0215,"e":0.1418,"lo":0.1375,"hi":0.1461,"g":0.0879,"m1":0.015,"m2":0.0454,"m3":0.078,"m4":0.1064,"m5":0.0993,"m6":0.1106,"m7":0.1205,"m8":0.1276,"m9":0.1276,"m10":0.1333,"m11":0.1333,"m12":0.1375,"m13":0.1375,"m14":0.1418,"m15":0.1418,"m16":0.1418},
{"t":0.0221,"e":0.1344,"lo":0.1304,"hi":0.1384,"g":0.0833,"m1":0.0155,"m2":0.043,"m3":0.0739,"m4":0.1008,"m5":0.0941,"m6":0.1048,"m7":0.1142,"m8":0.121,"m9":0.121,"m10":0.1263,"m11":0.1263,"m12":0.1304,"m13":0.1304,"m14":0.1344,"m15":0.1344,"m16":0.1344},
{"t":0.0225,"e":0.1549,"lo":0.1503,"hi":0.1595,"g":0.096,"m1":0.016,"m2":0.0496,"m3":0.0852,"m4":0.1162,"m5":0.1084,"m6":0.1208,"m7":0.1317,"m8":0.1394,"m9":0.1394,"m10":0.1456,"m11":0.1456,"m12":0.1503,"m13":0.1503,"m14":0.1549,"m15":0.1549,"m16":0.1549},
{"t":0.023,"e":0.1456,"lo":0.1412,"hi":0.15,"g":0.0903,"m1":0.016,"m2":0.0466,"m3":0.0801,"m4":0.1092,"m5":0.1019,"m6":0.1136,"m7":0.1238,"m8":0.131,"m9":0.131,"m10":0.1369,"m11":0.1369,"m12":0.1412,"m13":0.1412,"m14":0.1456,"m15":0.1456,"m16":0.1456},
{"t":0.0236,"e":0.1045,"lo":0.1014,"hi":0.1076,"g":0.0648,"m1":0.0155,"m2":0.0334,"m3":0.0575,"m4":0.0784,"m5":0.0732,"m6":0.0815,"m7":0.0888,"m8":0.0941,"m9":0.0941,"m10":0.0982,"m11":0.0982,"m12":0.1014,"m13":0.1014,"m14":0.1045,"m15":0.1045,"m16":0.1045},
{"t":0.024,"e":0.1456,"lo":0.1412,"hi":0.15,"g":0.0903,"m1":0.016,"m2":0.0466,"m3":0.0801,"m4":0.1092,"m5":0.1019,"m6":0.1136,"m7":0.1238,"m8":0.131,"m9":0.131,"m10":0.1369,"m11":0.1369,"m12":0.1412,"m13":0.1412,"m14":0.1456,"m15":0.1456,"m16":0.1456},
{"t":0.0244,"e":0.1306,"lo":0.1267,"hi":0.1345,"g":0.081,"m1":0.0165,"m2":0.0418,"m3":0.0718,"m4":0.098,"m5":0.0914,"m6":0.1019,"m7":0.111,"m8":0.1175,"m9":0.1175,"m10":0.1228,"m11":0.1228,"m12":0.1267,"m13":0.1267,"m14":0.1306,"m15":0.1306,"m16":0.1306},
{"t":0.0246,"e":0.1568,"lo":0.1521,"hi":0.1615,"g":0.0972,"m1":0.017,"m2":0.0502,"m3":0.0862,"m4":0.1176,"m5":0.1098,"m6":0.1223,"m7":0.1333,"m8":0.1411,"m9":0.1411,"m10":0.1474,"m11":0.1474,"m12":0.1521,"m13":0.1521,"m14":0.1568,"m15":0.1568,"m16":0.1568},
{"t":0.0249,"e":0.1344,"lo":0.1304,"hi":0.1384,"g":0.0833,"m1":0.0175,"m2":0.043,"m3":0.0739,"m4":0.1008,"m5":0.0941,"m6":0.1048,"m7":0.1142,"m8":0.121,"m9":0.121,"m10":0.1263,"m11":0.1263,"m12":0.1304,"m13":0.1304,"m14":0.1344,"m15":0.1344,"m16":0.1344},
{"t":0.0252,"e":0.1866,"lo":0.181,"hi":0.1922,"g":0.1157,"m1":0.019,"m2":0.0597,"m3":0.1026,"m4":0.14,"m5":0.1306,"m6":0.1455,"m7":0.1586,"m8":0.1679,"m9":0.1679,"m10":0.1754,"m11":0.1754,"m12":0.181,"m13":0.181,"m14":0.1866,"m15":0.1866,"m16":0.1866},
{"t":0.0257,"e":0.1792,"lo":0.1738,"hi":0.1846,"g":0.1111,"m1":0.019,"m2":0.0573,"m3":0.0986,"m4":0.1344,"m5":0.1254,"m6":0.1398,"m7":0.1523,"m8":0.1613,"m9":0.1613,"m10":0.1684,"m11":0.1684,"m12":0.1738,"m13":0.1738,"m14":0.1792,"m15":0.1792,"m16":0.1792},
{"t":0.0259,"e":0.2165,"lo":0.21,"hi":0.223,"g":0.1472,"m1":0.02,"m2":0.0541,"m3":0.0974,"m4":0.1407,"m5":0.1516,"m6":0.1689,"m7":0.184,"m8":0.1949,"m9":0.1949,"m10":0.2035,"m11":0.2035,"m12":0.21,"m13":0.21,"m14":0.2165,"m15":0.2165,"m16":0.2165},
{"t":0.0262,"e":0.2464,"lo":0.239,"hi":0.2538,"g":0.1725,"m1":0.0205,"m2":0.0542,"m3":0.1035,"m4":0.1478,"m5":0.1725,"m6":0.1922,"m7":0.2094,"m8":0.2218,"m9":0.2218,"m10":0.2316,"m11":0.2316,"m12":0.239,"m13":0.239,"m14":0.2464,"m15":0.2464,"m16":0.2464},
{"t":0.0266,"e":0.2613,"lo":0.2535,"hi":0.2691,"g":0.1829,"m1":0.021,"m2":0.0549,"m3":0.1045,"m4":0.1568,"m5":0.1829,"m6":0.2038,"m7":0.2221,"m8":0.2352,"m9":0.2352,"m10":0.2456,"m11":0.2456,"m12":0.2535,"m13":0.2535,"m14":0.2613,"m15":0.2613,"m16":0.2613},
{"t":0.027,"e":0.2873,"lo":0.2787,"hi":0.2959,"g":0.2069,"m1":0.0215,"m2":0.0575,"m3":0.1092,"m4":0.1609,"m5":0.2011,"m6":0.2241,"m7":0.2442,"m8":0.2586,"m9":0.2586,"m10":0.2701,"m11":0.2701,"m12":0.2787,"m13":0.2787,"m14":0.2873,"m15":0.2873,"m16":0.2873},
{"t":0.0274,"e":0.3377,"lo":0.3276,"hi":0.3478,"g":0.2431,"m1":0.0225,"m2":0.0608,"m3":0.1148,"m4":0.1689,"m5":0.2364,"m6":0.2634,"m7":0.287,"m8":0.3039,"m9":0.3039,"m10":0.3174,"m11":0.3174,"m12":0.3276,"m13":0.3276,"m14":0.3377,"m15":0.3377,"m16":0.3377},
{"t":0.0276,"e":0.3247,"lo":0.315,"hi":0.3344,"g":0.2338,"m1":0.0225,"m2":0.0617,"m3":0.1137,"m4":0.1656,"m5":0.2273,"m6":0.2533,"m7":0.276,"m8":0.2922,"m9":0.2922,"m10":0.3052,"m11":0.3052,"m12":0.315,"m13":0.315,"m14":0.3247,"m15":0.3247,"m16":0.3247},
{"t":0.0279,"e":0.28,"lo":0.2716,"hi":0.2884,"g":0.2016,"m1":0.022,"m2":0.056,"m3":0.1064,"m4":0.1568,"m5":0.196,"m6":0.2184,"m7":0.238,"m8":0.252,"m9":0.252,"m10":0.2632,"m11":0.2632,"m12":0.2716,"m13":0.2716,"m14":0.28,"m15":0.28,"m16":0.28},
{"t":0.0283,"e":0.2314,"lo":0.2245,"hi":0.2383,"g":0.1666,"m1":0.021,"m2":0.0486,"m3":0.0926,"m4":0.1388,"m5":0.162,"m6":0.1805,"m7":0.1967,"m8":0.2083,"m9":0.2083,"m10":0.2175,"m11":0.2175,"m12":0.2245,"m13":0.2245,"m14":0.2314,"m15":0.2314,"m16":0.2314},
{"t":0.0285,"e":0.224,"lo":0.2173,"hi":0.2307,"g":0.1613,"m1":0.021,"m2":0.0493,"m3":0.0896,"m4":0.1366,"m5":0.1568,"m6":0.1747,"m7":0.1904,"m8":0.2016,"m9":0.2016,"m10":0.2106,"m11":0.2106,"m12":0.2173,"m13":0.2173,"m14":0.224,"m15":0.224,"m16":0.224},
{"t":0.0288,"e":0.2128,"lo":0.2064,"hi":0.2192,"g":0.1532,"m1":0.0205,"m2":0.0468,"m3":0.0873,"m4":0.1319,"m5":0.149,"m6":0.166,"m7":0.1809,"m8":0.1915,"m9":0.1915,"m10":0.2,"m11":0.2,"m12":0.2064,"m13":0.2064,"m14":0.2128,"m15":0.2128,"m16":0.2128},
{"t":0.0292,"e":0.1829,"lo":0.1774,"hi":0.1884,"g":0.1427,"m1":0.02,"m2":0.0549,"m3":0.0951,"m4":0.1372,"m5":0.128,"m6":0.1427,"m7":0.1555,"m8":0.1646,"m9":0.1646,"m10":0.1719,"m11":0.1719,"m12":0.1774,"m13":0.1774,"m14":0.1829,"m15":0.1829,"m16":0.1829},
{"t":0.0295,"e":0.1904,"lo":0.1847,"hi":0.1961,"g":0.1485,"m1":0.0195,"m2":0.0571,"m3":0.099,"m4":0.1428,"m5":0.1333,"m6":0.1485,"m7":0.1618,"m8":0.1714,"m9":0.1714,"m10":0.179,"m11":0.179,"m12":0.1847,"m13":0.1847,"m14":0.1904,"m15":0.1904,"m16":0.1904},
{"t":0.0299,"e":0.112,"lo":0.1086,"hi":0.1154,"g":0.0874,"m1":0.0186,"m2":0.0426,"m3":0.0694,"m4":0.0952,"m5":0.0784,"m6":0.0874,"m7":0.0952,"m8":0.1008,"m9":0.1008,"m10":0.1053,"m11":0.1053,"m12":0.1086,"m13":0.1086,"m14":0.112,"m15":0.112,"m16":0.112},
{"t":0.0303,"e":0.118,"lo":0.1145,"hi":0.1215,"g":0.0932,"m1":0.0188,"m2":0.0448,"m3":0.0732,"m4":0.1003,"m5":0.0826,"m6":0.092,"m7":0.1003,"m8":0.1062,"m9":0.1062,"m10":0.1109,"m11":0.1109,"m12":0.1145,"m13":0.1145,"m14":0.118,"m15":0.118,"m16":0.118},
{"t":0.0307,"e":0.1493,"lo":0.1448,"hi":0.1538,"g":0.1194,"m1":0.019,"m2":0.0537,"m3":0.0836,"m4":0.1195,"m5":0.1045,"m6":0.1165,"m7":0.1269,"m8":0.1344,"m9":0.1344,"m10":0.1403,"m11":0.1403,"m12":0.1448,"m13":0.1448,"m14":0.1493,"m15":0.1493,"m16":0.1493},
{"t":0.0311,"e":0.1418,"lo":0.1375,"hi":0.1461,"g":0.1149,"m1":0.0195,"m2":0.051,"m3":0.0794,"m4":0.1134,"m5":0.0993,"m6":0.1106,"m7":0.1205,"m8":0.1276,"m9":0.1276,"m10":0.1333,"m11":0.1333,"m12":0.1375,"m13":0.1375,"m14":0.1418,"m15":0.1418,"m16":0.1418},
{"t":0.0315,"e":0.1829,"lo":0.1774,"hi":0.1884,"g":0.1518,"m1":0.0205,"m2":0.0585,"m3":0.0951,"m4":0.1372,"m5":0.128,"m6":0.1427,"m7":0.1555,"m8":0.1646,"m9":0.1646,"m10":0.1719,"m11":0.1719,"m12":0.1774,"m13":0.1774,"m14":0.1829,"m15":0.1829,"m16":0.1829},
{"t":0.0319,"e":0.1642,"lo":0.1593,"hi":0.1691,"g":0.1379,"m1":0.021,"m2":0.0558,"m3":0.0903,"m4":0.1297,"m5":0.1149,"m6":0.1281,"m7":0.1396,"m8":0.1478,"m9":0.1478,"m10":0.1543,"m11":0.1543,"m12":0.1593,"m13":0.1593,"m14":0.1642,"m15":0.1642,"m16":0.1642},
{"t":0.0323,"e":0.2016,"lo":0.1956,"hi":0.2076,"g":0.1714,"m1":0.0215,"m2":0.0605,"m3":0.1008,"m4":0.1452,"m5":0.1411,"m6":0.1572,"m7":0.1714,"m8":0.1814,"m9":0.1814,"m10":0.1895,"m11":0.1895,"m12":0.1956,"m13":0.1956,"m14":0.2016,"m15":0.2016,"m16":0.2016},
{"t":0.0326,"e":0.1642,"lo":0.1593,"hi":0.1691,"g":0.1396,"m1":0.021,"m2":0.0558,"m3":0.0903,"m4":0.1297,"m5":0.1149,"m6":0.1281,"m7":0.1396,"m8":0.1478,"m9":0.1478,"m10":0.1543,"m11":0.1543,"m12":0.1593,"m13":0.1593,"m14":0.1642,"m15":0.1642,"m16":0.1642},
{"t":0.033,"e":0.1306,"lo":0.1267,"hi":0.1345,"g":0.1123,"m1":0.0205,"m2":0.0496,"m3":0.081,"m4":0.111,"m5":0.0914,"m6":0.1019,"m7":0.111,"m8":0.1175,"m9":0.1175,"m10":0.1228,"m11":0.1228,"m12":0.1267,"m13":0.1267,"m14":0.1306,"m15":0.1306,"m16":0.1306},
{"t":0.0334,"e":0.1269,"lo":0.1231,"hi":0.1307,"g":0.1091,"m1":0.02,"m2":0.0482,"m3":0.0787,"m4":0.1079,"m5":0.0888,"m6":0.099,"m7":0.1079,"m8":0.1142,"m9":0.1142,"m10":0.1193,"m11":0.1193,"m12":0.1231,"m13":0.1231,"m14":0.1269,"m15":0.1269,"m16":0.1269},
{"t":0.0339,"e":0.112,"lo":0.1086,"hi":0.1154,"g":0.0974,"m1":0.0198,"m2":0.0426,"m3":0.0694,"m4":0.0952,"m5":0.0784,"m6":0.0874,"m7":0.0952,"m8":0.1008,"m9":0.1008,"m10":0.1053,"m11":0.1053,"m12":0.1086,"m13":0.1086,"m14":0.112,"m15":0.112,"m16":0.112},
{"t":0.0344,"e":0.1269,"lo":0.1231,"hi":0.1307,"g":0.1117,"m1":0.02,"m2":0.0482,"m3":0.0787,"m4":0.1079,"m5":0.0888,"m6":0.099,"m7":0.1079,"m8":0.1142,"m9":0.1142,"m10":0.1193,"m11":0.1193,"m12":0.1231,"m13":0.1231,"m14":0.1269,"m15":0.1269,"m16":0.1269},
{"t":0.0351,"e":0.1456,"lo":0.1412,"hi":0.15,"g":0.131,"m1":0.0205,"m2":0.0524,"m3":0.0873,"m4":0.1209,"m5":0.1019,"m6":0.1136,"m7":0.1238,"m8":0.131,"m9":0.131,"m10":0.1369,"m11":0.1369,"m12":0.1412,"m13":0.1412,"m14":0.1456,"m15":0.1456,"m16":0.1456},
{"t":0.0355,"e":0.1344,"lo":0.1304,"hi":0.1384,"g":0.121,"m1":0.0205,"m2":0.0511,"m3":0.0833,"m4":0.1142,"m5":0.0941,"m6":0.1048,"m7":0.1142,"m8":0.121,"m9":0.121,"m10":0.1263,"m11":0.1263,"m12":0.1304,"m13":0.1304,"m14":0.1344,"m15":0.1344,"m16":0.1344},
{"t":0.0359,"e":0.1157,"lo":0.1122,"hi":0.1192,"g":0.1053,"m1":0.02,"m2":0.044,"m3":0.0717,"m4":0.0983,"m5":0.081,"m6":0.0902,"m7":0.0983,"m8":0.1041,"m9":0.1041,"m10":0.1088,"m11":0.1088,"m12":0.1122,"m13":0.1122,"m14":0.1157,"m15":0.1157,"m16":0.1157},
{"t":0.0364,"e":0.1344,"lo":0.1304,"hi":0.1384,"g":0.1237,"m1":0.0205,"m2":0.0511,"m3":0.0833,"m4":0.1142,"m5":0.0941,"m6":0.1048,"m7":0.1142,"m8":0.121,"m9":0.121,"m10":0.1263,"m11":0.1263,"m12":0.1304,"m13":0.1304,"m14":0.1344,"m15":0.1344,"m16":0.1344},
{"t":0.037,"e":0.1232,"lo":0.1195,"hi":0.1269,"g":0.1146,"m1":0.0205,"m2":0.0468,"m3":0.0764,"m4":0.1047,"m5":0.0862,"m6":0.0961,"m7":0.1047,"m8":0.1109,"m9":0.1109,"m10":0.1158,"m11":0.1158,"m12":0.1195,"m13":0.1195,"m14":0.1232,"m15":0.1232,"m16":0.1232},
{"t":0.0375,"e":0.1082,"lo":0.105,"hi":0.1114,"g":0.1017,"m1":0.02,"m2":0.0411,"m3":0.0671,"m4":0.092,"m5":0.0757,"m6":0.0844,"m7":0.092,"m8":0.0974,"m9":0.0974,"m10":0.1017,"m11":0.1017,"m12":0.105,"m13":0.105,"m14":0.1082,"m15":0.1082,"m16":0.1082},
{"t":0.0379,"e":0.0896,"lo":0.0869,"hi":0.0923,"g":0.0851,"m1":0.02,"m2":0.0341,"m3":0.0556,"m4":0.0762,"m5":0.0627,"m6":0.0699,"m7":0.0762,"m8":0.0806,"m9":0.0806,"m10":0.0842,"m11":0.0842,"m12":0.0869,"m13":0.0869,"m14":0.0896,"m15":0.0896,"m16":0.0896},
{"t":0.0381,"e":0.1269,"lo":0.1231,"hi":0.1307,"g":0.1206,"m1":0.021,"m2":0.0482,"m3":0.0787,"m4":0.1079,"m5":0.0888,"m6":0.099,"m7":0.1079,"m8":0.1142,"m9":0.1142,"m10":0.1193,"m11":0.1193,"m12":0.1231,"m13":0.1231,"m14":0.1269,"m15":0.1269,"m16":0.1269},
{"t":0.0385,"e":0.1232,"lo":0.1195,"hi":0.1269,"g":0.117,"m1":0.021,"m2":0.0468,"m3":0.0764,"m4":0.1047,"m5":0.0862,"m6":0.0961,"m7":0.1047,"m8":0.1109,"m9":0.1109,"m10":0.1158,"m11":0.1158,"m12":0.1195,"m13":0.1195,"m14":0.1232,"m15":0.1232,"m16":0.1232}
]},
"transform":[{"fold":["m1","m2","m3","m4","m5","m6","m7","m8","m9","m10","m11","m12","m13","m14","m15","m16","g","lo","hi","e"],"as":["s","v"]}],
"encoding":{
"x":{"field":"t","type":"quantitative","scale":{"domain":[-0.001925,0.040425],"nice":false,"zero":false},"axis":{"values":[0,0.005,0.01,0.015,0.02,0.025,0.03,0.035,0.04],"format":".3f","title":"t"}},
"y":{"field":"v","type":"quantitative","scale":{"domain":[-0.0142,0.3564],"nice":false,"zero":false},"axis":{"values":[0,0.05,0.1,0.15,0.2,0.25,0.3,0.35],"format":".2f","title":null}},
"color":{"field":"s","type":"nominal","scale":{"domain":["e","lo","hi","g","sp","tt","m1","m2","m3","m4","m5","m6","m7","m8","m9","m10","m11","m12","m13","m14","m15","m16"],"range":["#000000","#000000","#000000","#808080","rgba(0,0,0,0)","rgba(0,0,0,0)","#ffff00","#ffee00","#ffdd00","#ffcc00","#ffbb00","#ffaa00","#ff9900","#ff8800","#ff7700","#ff6600","#ff5500","#ff4400","#ff3300","#ff2200","#ff1100","#ff0000"]},
"legend":{"title":null,"orient":"top-left","values":["g","e","lo","sp","tt","m1","m8","m16"],"labelExpr":"datum.label=='g'?'Yₜ³':datum.label=='e'?'𝔼[Y_T³|ℱₜ]':datum.label=='lo'?'CI [2.5%, 97.5%]':datum.label=='sp'?'':datum.label=='tt'?'⟨(ℓᵛᴼᴸ)⧢³, (𝕎̂ₜ ⊗ ℰ_T₋ₜ)≤ᴹ⟩':datum.label=='m8'?'⋯':datum.label=='m1'?'M=1':datum.label=='m16'?'M=16':datum.label"}},
"strokeDash":{"field":"s","type":"nominal","scale":{"domain":["e","lo","hi","g","sp","tt","m1","m2","m3","m4","m5","m6","m7","m8","m9","m10","m11","m12","m13","m14","m15","m16"],"range":[[5,3],[1,2],[1,2],[1,0],[1,0],[1,0],[1,0],[1,0],[1,0],[1,0],[1,0],[1,0],[1,0],[1,0],[1,0],[1,0],[1,0],[1,0],[1,0],[1,0],[1,0],[1,0]]},
"legend":{"title":null,"orient":"top-left","values":["g","e","lo","sp","tt","m1","m8","m16"],"labelExpr":"datum.label=='g'?'Yₜ³':datum.label=='e'?'𝔼[Y_T³|ℱₜ]':datum.label=='lo'?'CI [2.5%, 97.5%]':datum.label=='sp'?'':datum.label=='tt'?'⟨(ℓᵛᴼᴸ)⧢³, (𝕎̂ₜ ⊗ ℰ_T₋ₜ)≤ᴹ⟩':datum.label=='m8'?'⋯':datum.label=='m1'?'M=1':datum.label=='m16'?'M=16':datum.label"}}
},
"layer":[
{"transform":[{"filter":{"field":"s","oneOf":["m1","m2","m3","m4","m5","m6","m7","m8","m9","m10","m11","m12","m13","m14","m15","m16"]}}],"mark":{"type":"line","clip":true,"strokeWidth":1.2}},
{"transform":[{"filter":{"field":"s","oneOf":["g"]}}],"mark":{"type":"line","clip":true,"strokeWidth":1.2,"color":"#808080"},"encoding":{"color":{"value":"#808080"},"strokeDash":{"value":[1,0]}}},
{"transform":[{"filter":{"field":"s","oneOf":["lo","hi","e"]}}],"mark":{"type":"line","clip":true,"strokeWidth":1.3}}
]},
{"width":547,"height":332,
"title":{"text":"(d) Conditional, 𝑚 = 4","orient":"bottom","dx":-1},
"data":{"values":[
{"t":0,"e":0.032,"lo":0.029,"hi":0.035,"g":0.0158,"m1":0.006,"m2":0.0413,"m3":0.0668,"m4":0.005,"m5":0,"m6":0.0857,"m7":0.09,"m8":-0.002,"m9":0,"m10":0.066,"m11":-0.004,"m12":0.0512,"m13":0.004,"m14":0.012,"m15":0.0199,"m16":0.0413},
{"t":0.0005,"e":0.033,"lo":0.03,"hi":0.036,"g":0.016,"m1":0.005,"m2":0.043,"m3":0.063,"m4":0.004,"m5":-0.002,"m6":0.074,"m7":0.098,"m8":-0.003,"m9":-0.001,"m10":0.058,"m11":-0.004,"m12":0.048,"m13":0.006,"m14":0.016,"m15":0.0281,"m16":0.04},
{"t":0.001,"e":0.028,"lo":0.025,"hi":0.031,"g":0.014,"m1":0.004,"m2":0.0413,"m3":0.071,"m4":0.003,"m5":-0.003,"m6":0.078,"m7":0.11,"m8":-0.004,"m9":-0.002,"m10":0.072,"m11":-0.005,"m12":0.0512,"m13":0.004,"m14":0.012,"m15":0.0232,"m16":0.039},
{"t":0.0015,"e":0.027,"lo":0.024,"hi":0.03,"g":0.0135,"m1":0.003,"m2":0.0405,"m3":0.068,"m4":0.002,"m5":-0.004,"m6":0.09,"m7":0.1,"m8":-0.005,"m9":-0.003,"m10":0.064,"m11":-0.006,"m12":0.0446,"m13":0.003,"m14":0.011,"m15":0.017,"m16":0.0347},
{"t":0.002,"e":0.0275,"lo":0.0245,"hi":0.0305,"g":0.013,"m1":0.002,"m2":0.0396,"m3":0.0659,"m4":0,"m5":-0.005,"m6":0.095,"m7":0.12,"m8":-0.006,"m9":-0.004,"m10":0.058,"m11":-0.007,"m12":0.043,"m13":0.005,"m14":0.014,"m15":0.0215,"m16":0.033},
{"t":0.0025,"e":0.027,"lo":0.024,"hi":0.03,"g":0.0135,"m1":0.001,"m2":0.039,"m3":0.0627,"m4":-0.001,"m5":-0.005,"m6":0.078,"m7":0.11,"m8":-0.006,"m9":-0.004,"m10":0.056,"m11":-0.007,"m12":0.042,"m13":0.008,"m14":0.016,"m15":0.028,"m16":0.032},
{"t":0.003,"e":0.031,"lo":0.028,"hi":0.034,"g":0.015,"m1":0,"m2":0.038,"m3":0.064,"m4":-0.002,"m5":-0.005,"m6":0.072,"m7":0.1,"m8":-0.006,"m9":-0.004,"m10":0.054,"m11":-0.006,"m12":0.041,"m13":0.006,"m14":0.012,"m15":0.0182,"m16":0.0315},
{"t":0.0035,"e":0.027,"lo":0.024,"hi":0.03,"g":0.012,"m1":0.001,"m2":0.037,"m3":0.0578,"m4":-0.001,"m5":-0.004,"m6":0.064,"m7":0.089,"m8":-0.005,"m9":-0.003,"m10":0.047,"m11":-0.004,"m12":0.04,"m13":0.007,"m14":0.015,"m15":0.018,"m16":0.0305},
{"t":0.004,"e":0.0255,"lo":0.0225,"hi":0.0285,"g":0.0125,"m1":0.002,"m2":0.0363,"m3":0.056,"m4":0,"m5":-0.002,"m6":0.058,"m7":0.07,"m8":-0.002,"m9":0,"m10":0.0413,"m11":0.004,"m12":0.04,"m13":0.009,"m14":0.016,"m15":0.024,"m16":0.0298},
{"t":0.0045,"e":0.028,"lo":0.025,"hi":0.031,"g":0.0145,"m1":0.007,"m2":0.0396,"m3":0.052,"m4":0.01,"m5":0.015,"m6":0.052,"m7":0.054,"m8":0.012,"m9":0.02,"m10":0.04,"m11":0.022,"m12":0.038,"m13":0.018,"m14":0.026,"m15":0.03,"m16":0.0315},
{"t":0.005,"e":0.035,"lo":0.032,"hi":0.038,"g":0.018,"m1":0.012,"m2":0.043,"m3":0.05,"m4":0.025,"m5":0.03,"m6":0.051,"m7":0.049,"m8":0.028,"m9":0.033,"m10":0.038,"m11":0.035,"m12":0.037,"m13":0.032,"m14":0.038,"m15":0.035,"m16":0.035},
{"t":0.0055,"e":0.041,"lo":0.038,"hi":0.044,"g":0.025,"m1":0.0149,"m2":0.038,"m3":0.049,"m4":0.035,"m5":0.04,"m6":0.05,"m7":0.048,"m8":0.038,"m9":0.042,"m10":0.04,"m11":0.042,"m12":0.039,"m13":0.041,"m14":0.043,"m15":0.04,"m16":0.04},
{"t":0.006,"e":0.043,"lo":0.0413,"hi":0.0447,"g":0.026,"m1":0.0165,"m2":0.034,"m3":0.047,"m4":0.038,"m5":0.041,"m6":0.049,"m7":0.048,"m8":0.041,"m9":0.042,"m10":0.042,"m11":0.043,"m12":0.042,"m13":0.043,"m14":0.043,"m15":0.043,"m16":0.043},
{"t":0.0066,"e":0.0437,"lo":0.042,"hi":0.0455,"g":0.0275,"m1":0.0165,"m2":0.035,"m3":0.046,"m4":0.04,"m5":0.042,"m6":0.048,"m7":0.0478,"m8":0.042,"m9":0.043,"m10":0.043,"m11":0.0437,"m12":0.0437,"m13":0.0437,"m14":0.0437,"m15":0.0437,"m16":0.0437},
{"t":0.0071,"e":0.046,"lo":0.0442,"hi":0.0478,"g":0.029,"m1":0.019,"m2":0.036,"m3":0.045,"m4":0.041,"m5":0.043,"m6":0.047,"m7":0.047,"m8":0.044,"m9":0.045,"m10":0.045,"m11":0.046,"m12":0.046,"m13":0.046,"m14":0.046,"m15":0.046,"m16":0.046},
{"t":0.0074,"e":0.0425,"lo":0.0408,"hi":0.0442,"g":0.0285,"m1":0.022,"m2":0.034,"m3":0.0361,"m4":0.0383,"m5":0.0395,"m6":0.0395,"m7":0.0408,"m8":0.0408,"m9":0.0417,"m10":0.0417,"m11":0.0425,"m12":0.0425,"m13":0.0425,"m14":0.0425,"m15":0.0425,"m16":0.0425},
{"t":0.0078,"e":0.0742,"lo":0.0712,"hi":0.0772,"g":0.0475,"m1":0.0306,"m2":0.0484,"m3":0.0631,"m4":0.0668,"m5":0.069,"m6":0.069,"m7":0.0712,"m8":0.0712,"m9":0.0727,"m10":0.0727,"m11":0.0742,"m12":0.0742,"m13":0.0742,"m14":0.0742,"m15":0.0742,"m16":0.0742},
{"t":0.0084,"e":0.0569,"lo":0.0546,"hi":0.0592,"g":0.0371,"m1":0.0262,"m2":0.0406,"m3":0.0484,"m4":0.0512,"m5":0.0529,"m6":0.0529,"m7":0.0546,"m8":0.0546,"m9":0.0558,"m10":0.0558,"m11":0.0569,"m12":0.0569,"m13":0.0569,"m14":0.0569,"m15":0.0569,"m16":0.0569},
{"t":0.0089,"e":0.0602,"lo":0.0578,"hi":0.0626,"g":0.0391,"m1":0.0271,"m2":0.0421,"m3":0.0512,"m4":0.0542,"m5":0.056,"m6":0.056,"m7":0.0578,"m8":0.0578,"m9":0.059,"m10":0.059,"m11":0.0602,"m12":0.0602,"m13":0.0602,"m14":0.0602,"m15":0.0602,"m16":0.0602},
{"t":0.0093,"e":0.0536,"lo":0.0515,"hi":0.0557,"g":0.0352,"m1":0.0254,"m2":0.0391,"m3":0.0456,"m4":0.0482,"m5":0.0498,"m6":0.0498,"m7":0.0515,"m8":0.0515,"m9":0.0525,"m10":0.0525,"m11":0.0536,"m12":0.0536,"m13":0.0536,"m14":0.0536,"m15":0.0536,"m16":0.0536},
{"t":0.0097,"e":0.0553,"lo":0.0531,"hi":0.0575,"g":0.0362,"m1":0.0258,"m2":0.0399,"m3":0.047,"m4":0.0498,"m5":0.0514,"m6":0.0514,"m7":0.0531,"m8":0.0531,"m9":0.0542,"m10":0.0542,"m11":0.0553,"m12":0.0553,"m13":0.0553,"m14":0.0553,"m15":0.0553,"m16":0.0553},
{"t":0.0102,"e":0.0594,"lo":0.057,"hi":0.0618,"g":0.0386,"m1":0.0269,"m2":0.0417,"m3":0.0505,"m4":0.0535,"m5":0.0552,"m6":0.0552,"m7":0.057,"m8":0.057,"m9":0.0582,"m10":0.0582,"m11":0.0594,"m12":0.0594,"m13":0.0594,"m14":0.0594,"m15":0.0594,"m16":0.0594},
{"t":0.0107,"e":0.0759,"lo":0.0729,"hi":0.0789,"g":0.0485,"m1":0.031,"m2":0.0492,"m3":0.0645,"m4":0.0683,"m5":0.0706,"m6":0.0706,"m7":0.0729,"m8":0.0729,"m9":0.0744,"m10":0.0744,"m11":0.0759,"m12":0.0759,"m13":0.0759,"m14":0.0759,"m15":0.0759,"m16":0.0759},
{"t":0.0112,"e":0.0594,"lo":0.057,"hi":0.0618,"g":0.0386,"m1":0.0269,"m2":0.0417,"m3":0.0505,"m4":0.0535,"m5":0.0552,"m6":0.0552,"m7":0.057,"m8":0.057,"m9":0.0582,"m10":0.0582,"m11":0.0594,"m12":0.0594,"m13":0.0594,"m14":0.0594,"m15":0.0594,"m16":0.0594},
{"t":0.0117,"e":0.0586,"lo":0.0563,"hi":0.0609,"g":0.0382,"m1":0.0267,"m2":0.0414,"m3":0.0498,"m4":0.0527,"m5":0.0545,"m6":0.0545,"m7":0.0563,"m8":0.0563,"m9":0.0574,"m10":0.0574,"m11":0.0586,"m12":0.0586,"m13":0.0586,"m14":0.0586,"m15":0.0586,"m16":0.0586},
{"t":0.0122,"e":0.0512,"lo":0.0492,"hi":0.0532,"g":0.0337,"m1":0.0248,"m2":0.038,"m3":0.0435,"m4":0.0461,"m5":0.0476,"m6":0.0476,"m7":0.0492,"m8":0.0492,"m9":0.0502,"m10":0.0502,"m11":0.0512,"m12":0.0512,"m13":0.0512,"m14":0.0512,"m15":0.0512,"m16":0.0512},
{"t":0.0125,"e":0.0446,"lo":0.0428,"hi":0.0464,"g":0.0298,"m1":0.0232,"m2":0.0351,"m3":0.0379,"m4":0.0401,"m5":0.0415,"m6":0.0415,"m7":0.0428,"m8":0.0428,"m9":0.0437,"m10":0.0437,"m11":0.0446,"m12":0.0446,"m13":0.0446,"m14":0.0446,"m15":0.0446,"m16":0.0446},
{"t":0.013,"e":0.0512,"lo":0.0492,"hi":0.0532,"g":0.0337,"m1":0.0248,"m2":0.038,"m3":0.0435,"m4":0.0461,"m5":0.0476,"m6":0.0476,"m7":0.0492,"m8":0.0492,"m9":0.0502,"m10":0.0502,"m11":0.0512,"m12":0.0512,"m13":0.0512,"m14":0.0512,"m15":0.0512,"m16":0.0512},
{"t":0.0135,"e":0.0495,"lo":0.0475,"hi":0.0515,"g":0.0327,"m1":0.0244,"m2":0.0373,"m3":0.0421,"m4":0.0446,"m5":0.046,"m6":0.046,"m7":0.0475,"m8":0.0475,"m9":0.0485,"m10":0.0485,"m11":0.0495,"m12":0.0495,"m13":0.0495,"m14":0.0495,"m15":0.0495,"m16":0.0495},
{"t":0.0139,"e":0.0503,"lo":0.0483,"hi":0.0523,"g":0.0332,"m1":0.0246,"m2":0.0376,"m3":0.0428,"m4":0.0453,"m5":0.0468,"m6":0.0468,"m7":0.0483,"m8":0.0483,"m9":0.0493,"m10":0.0493,"m11":0.0503,"m12":0.0503,"m13":0.0503,"m14":0.0503,"m15":0.0503,"m16":0.0503},
{"t":0.0143,"e":0.0635,"lo":0.061,"hi":0.066,"g":0.0411,"m1":0.0279,"m2":0.0436,"m3":0.054,"m4":0.0572,"m5":0.0591,"m6":0.0591,"m7":0.061,"m8":0.061,"m9":0.0622,"m10":0.0622,"m11":0.0635,"m12":0.0635,"m13":0.0635,"m14":0.0635,"m15":0.0635,"m16":0.0635},
{"t":0.0148,"e":0.061,"lo":0.0586,"hi":0.0634,"g":0.0396,"m1":0.0273,"m2":0.0425,"m3":0.0519,"m4":0.0549,"m5":0.0567,"m6":0.0567,"m7":0.0586,"m8":0.0586,"m9":0.0598,"m10":0.0598,"m11":0.061,"m12":0.061,"m13":0.061,"m14":0.061,"m15":0.061,"m16":0.061},
{"t":0.0153,"e":0.0684,"lo":0.0657,"hi":0.0711,"g":0.044,"m1":0.0291,"m2":0.0458,"m3":0.0581,"m4":0.0616,"m5":0.0636,"m6":0.0636,"m7":0.0657,"m8":0.0657,"m9":0.067,"m10":0.067,"m11":0.0684,"m12":0.0684,"m13":0.0684,"m14":0.0684,"m15":0.0684,"m16":0.0684},
{"t":0.0158,"e":0.0627,"lo":0.0602,"hi":0.0652,"g":0.0406,"m1":0.0277,"m2":0.0432,"m3":0.0533,"m4":0.0564,"m5":0.0583,"m6":0.0583,"m7":0.0602,"m8":0.0602,"m9":0.0614,"m10":0.0614,"m11":0.0627,"m12":0.0627,"m13":0.0627,"m14":0.0627,"m15":0.0627,"m16":0.0627},
{"t":0.0163,"e":0.0726,"lo":0.0697,"hi":0.0755,"g":0.0466,"m1":0.0302,"m2":0.0477,"m3":0.0617,"m4":0.0653,"m5":0.0675,"m6":0.0675,"m7":0.0697,"m8":0.0697,"m9":0.0711,"m10":0.0711,"m11":0.0726,"m12":0.0726,"m13":0.0726,"m14":0.0726,"m15":0.0726,"m16":0.0726},
{"t":0.0169,"e":0.0652,"lo":0.0626,"hi":0.0678,"g":0.0421,"m1":0.0283,"m2":0.0443,"m3":0.0554,"m4":0.0587,"m5":0.0606,"m6":0.0606,"m7":0.0626,"m8":0.0626,"m9":0.0639,"m10":0.0639,"m11":0.0652,"m12":0.0652,"m13":0.0652,"m14":0.0652,"m15":0.0652,"m16":0.0652},
{"t":0.0174,"e":0.0701,"lo":0.0673,"hi":0.0729,"g":0.0451,"m1":0.0295,"m2":0.0465,"m3":0.0596,"m4":0.0631,"m5":0.0652,"m6":0.0652,"m7":0.0673,"m8":0.0673,"m9":0.0687,"m10":0.0687,"m11":0.0701,"m12":0.0701,"m13":0.0701,"m14":0.0701,"m15":0.0701,"m16":0.0701},
{"t":0.0179,"e":0.0594,"lo":0.057,"hi":0.0618,"g":0.0386,"m1":0.0269,"m2":0.0417,"m3":0.0505,"m4":0.0535,"m5":0.0552,"m6":0.0552,"m7":0.057,"m8":0.057,"m9":0.0582,"m10":0.0582,"m11":0.0594,"m12":0.0594,"m13":0.0594,"m14":0.0594,"m15":0.0594,"m16":0.0594},
{"t":0.0184,"e":0.0652,"lo":0.0626,"hi":0.0678,"g":0.0421,"m1":0.0283,"m2":0.0443,"m3":0.0554,"m4":0.0587,"m5":0.0606,"m6":0.0606,"m7":0.0626,"m8":0.0626,"m9":0.0639,"m10":0.0639,"m11":0.0652,"m12":0.0652,"m13":0.0652,"m14":0.0652,"m15":0.0652,"m16":0.0652},
{"t":0.0189,"e":0.0767,"lo":0.0736,"hi":0.0798,"g":0.049,"m1":0.0312,"m2":0.0495,"m3":0.0652,"m4":0.069,"m5":0.0713,"m6":0.0713,"m7":0.0736,"m8":0.0736,"m9":0.0752,"m10":0.0752,"m11":0.0767,"m12":0.0767,"m13":0.0767,"m14":0.0767,"m15":0.0767,"m16":0.0767},
{"t":0.0193,"e":0.072,"lo":0.0691,"hi":0.0749,"g":0.0462,"m1":0.03,"m2":0.0474,"m3":0.0612,"m4":0.0648,"m5":0.067,"m6":0.067,"m7":0.0691,"m8":0.0691,"m9":0.0706,"m10":0.0706,"m11":0.072,"m12":0.072,"m13":0.072,"m14":0.072,"m15":0.072,"m16":0.072},
{"t":0.0196,"e":0.0652,"lo":0.0626,"hi":0.0678,"g":0.0421,"m1":0.0283,"m2":0.0443,"m3":0.0554,"m4":0.0587,"m5":0.0606,"m6":0.0606,"m7":0.0626,"m8":0.0626,"m9":0.0639,"m10":0.0639,"m11":0.0652,"m12":0.0652,"m13":0.0652,"m14":0.0652,"m15":0.0652,"m16":0.0652},
{"t":0.0202,"e":0.085,"lo":0.0816,"hi":0.0884,"g":0.054,"m1":0.0333,"m2":0.0533,"m3":0.0723,"m4":0.0765,"m5":0.0791,"m6":0.0791,"m7":0.0816,"m8":0.0816,"m9":0.0833,"m10":0.0833,"m11":0.085,"m12":0.085,"m13":0.085,"m14":0.085,"m15":0.085,"m16":0.085},
{"t":0.0206,"e":0.0734,"lo":0.0705,"hi":0.0763,"g":0.047,"m1":0.0304,"m2":0.048,"m3":0.0624,"m4":0.0661,"m5":0.0683,"m6":0.0683,"m7":0.0705,"m8":0.0705,"m9":0.0719,"m10":0.0719,"m11":0.0734,"m12":0.0734,"m13":0.0734,"m14":0.0734,"m15":0.0734,"m16":0.0734},
{"t":0.0211,"e":0.0709,"lo":0.0681,"hi":0.0737,"g":0.0455,"m1":0.0297,"m2":0.0469,"m3":0.0603,"m4":0.0638,"m5":0.0659,"m6":0.0659,"m7":0.0681,"m8":0.0681,"m9":0.0695,"m10":0.0695,"m11":0.0709,"m12":0.0709,"m13":0.0709,"m14":0.0709,"m15":0.0709,"m16":0.0709},
{"t":0.0215,"e":0.0676,"lo":0.0649,"hi":0.0703,"g":0.0436,"m1":0.0289,"m2":0.0454,"m3":0.0575,"m4":0.0608,"m5":0.0629,"m6":0.0629,"m7":0.0649,"m8":0.0649,"m9":0.0662,"m10":0.0662,"m11":0.0676,"m12":0.0676,"m13":0.0676,"m14":0.0676,"m15":0.0676,"m16":0.0676},
{"t":0.0219,"e":0.0495,"lo":0.0475,"hi":0.0515,"g":0.0327,"m1":0.0244,"m2":0.0373,"m3":0.0421,"m4":0.0446,"m5":0.046,"m6":0.046,"m7":0.0475,"m8":0.0475,"m9":0.0485,"m10":0.0485,"m11":0.0495,"m12":0.0495,"m13":0.0495,"m14":0.0495,"m15":0.0495,"m16":0.0495},
{"t":0.0223,"e":0.0578,"lo":0.0555,"hi":0.0601,"g":0.0377,"m1":0.0265,"m2":0.041,"m3":0.0491,"m4":0.052,"m5":0.0538,"m6":0.0538,"m7":0.0555,"m8":0.0555,"m9":0.0566,"m10":0.0566,"m11":0.0578,"m12":0.0578,"m13":0.0578,"m14":0.0578,"m15":0.0578,"m16":0.0578},
{"t":0.0226,"e":0.0495,"lo":0.0475,"hi":0.0515,"g":0.0327,"m1":0.0244,"m2":0.0373,"m3":0.0421,"m4":0.0446,"m5":0.046,"m6":0.046,"m7":0.0475,"m8":0.0475,"m9":0.0485,"m10":0.0485,"m11":0.0495,"m12":0.0495,"m13":0.0495,"m14":0.0495,"m15":0.0495,"m16":0.0495},
{"t":0.023,"e":0.0405,"lo":0.0389,"hi":0.0421,"g":0.0273,"m1":0.0221,"m2":0.0332,"m3":0.0344,"m4":0.0365,"m5":0.0377,"m6":0.0377,"m7":0.0389,"m8":0.0389,"m9":0.0397,"m10":0.0397,"m11":0.0405,"m12":0.0405,"m13":0.0405,"m14":0.0405,"m15":0.0405,"m16":0.0405},
{"t":0.0234,"e":0.0512,"lo":0.0492,"hi":0.0532,"g":0.0337,"m1":0.0248,"m2":0.038,"m3":0.0435,"m4":0.0461,"m5":0.0476,"m6":0.0476,"m7":0.0492,"m8":0.0492,"m9":0.0502,"m10":0.0502,"m11":0.0512,"m12":0.0512,"m13":0.0512,"m14":0.0512,"m15":0.0512,"m16":0.0512},
{"t":0.0238,"e":0.0545,"lo":0.0523,"hi":0.0567,"g":0.0357,"m1":0.0256,"m2":0.0395,"m3":0.0463,"m4":0.0491,"m5":0.0507,"m6":0.0507,"m7":0.0523,"m8":0.0523,"m9":0.0534,"m10":0.0534,"m11":0.0545,"m12":0.0545,"m13":0.0545,"m14":0.0545,"m15":0.0545,"m16":0.0545},
{"t":0.0242,"e":0.0462,"lo":0.0444,"hi":0.048,"g":0.0307,"m1":0.0236,"m2":0.0358,"m3":0.0393,"m4":0.0416,"m5":0.043,"m6":0.043,"m7":0.0444,"m8":0.0444,"m9":0.0453,"m10":0.0453,"m11":0.0462,"m12":0.0462,"m13":0.0462,"m14":0.0462,"m15":0.0462,"m16":0.0462},
{"t":0.0246,"e":0.0561,"lo":0.0539,"hi":0.0583,"g":0.0367,"m1":0.026,"m2":0.0402,"m3":0.0477,"m4":0.0505,"m5":0.0522,"m6":0.0522,"m7":0.0539,"m8":0.0539,"m9":0.055,"m10":0.055,"m11":0.0561,"m12":0.0561,"m13":0.0561,"m14":0.0561,"m15":0.0561,"m16":0.0561},
{"t":0.025,"e":0.0783,"lo":0.0752,"hi":0.0814,"g":0.075,"m1":0.0316,"m2":0.0502,"m3":0.0666,"m4":0.0705,"m5":0.0728,"m6":0.0728,"m7":0.0752,"m8":0.0752,"m9":0.0767,"m10":0.0767,"m11":0.0783,"m12":0.0783,"m13":0.0783,"m14":0.0783,"m15":0.0783,"m16":0.0783},
{"t":0.0253,"e":0.0676,"lo":0.0649,"hi":0.0703,"g":0.0436,"m1":0.0289,"m2":0.0454,"m3":0.0575,"m4":0.0608,"m5":0.0629,"m6":0.0629,"m7":0.0649,"m8":0.0649,"m9":0.0662,"m10":0.0662,"m11":0.0676,"m12":0.0676,"m13":0.0676,"m14":0.0676,"m15":0.0676,"m16":0.0676},
{"t":0.0259,"e":0.0635,"lo":0.061,"hi":0.066,"g":0.0411,"m1":0.0279,"m2":0.0436,"m3":0.054,"m4":0.0572,"m5":0.0591,"m6":0.0591,"m7":0.061,"m8":0.061,"m9":0.0622,"m10":0.0622,"m11":0.0635,"m12":0.0635,"m13":0.0635,"m14":0.0635,"m15":0.0635,"m16":0.0635},
{"t":0.0264,"e":0.0528,"lo":0.0507,"hi":0.0549,"g":0.0347,"m1":0.0252,"m2":0.0388,"m3":0.0449,"m4":0.0475,"m5":0.0491,"m6":0.0491,"m7":0.0507,"m8":0.0507,"m9":0.0517,"m10":0.0517,"m11":0.0528,"m12":0.0528,"m13":0.0528,"m14":0.0528,"m15":0.0528,"m16":0.0528},
{"t":0.0269,"e":0.0495,"lo":0.0475,"hi":0.0515,"g":0.0327,"m1":0.0244,"m2":0.0373,"m3":0.0421,"m4":0.0446,"m5":0.046,"m6":0.046,"m7":0.0475,"m8":0.0475,"m9":0.0485,"m10":0.0485,"m11":0.0495,"m12":0.0495,"m13":0.0495,"m14":0.0495,"m15":0.0495,"m16":0.0495},
{"t":0.0273,"e":0.0454,"lo":0.0436,"hi":0.0472,"g":0.0302,"m1":0.0234,"m2":0.0354,"m3":0.0386,"m4":0.0409,"m5":0.0422,"m6":0.0422,"m7":0.0436,"m8":0.0436,"m9":0.0445,"m10":0.0445,"m11":0.0454,"m12":0.0454,"m13":0.0454,"m14":0.0454,"m15":0.0454,"m16":0.0454},
{"t":0.0278,"e":0.0396,"lo":0.038,"hi":0.0412,"g":0.0337,"m1":0.0347,"m2":0.0436,"m3":0.0364,"m4":0.0376,"m5":0.0368,"m6":0.0368,"m7":0.038,"m8":0.038,"m9":0.0388,"m10":0.0388,"m11":0.0396,"m12":0.0396,"m13":0.0396,"m14":0.0396,"m15":0.0396,"m16":0.0396},
{"t":0.0282,"e":0.0347,"lo":0.0333,"hi":0.0361,"g":0.0302,"m1":0.0285,"m2":0.0382,"m3":0.0319,"m4":0.033,"m5":0.0323,"m6":0.0323,"m7":0.0333,"m8":0.0333,"m9":0.034,"m10":0.034,"m11":0.0347,"m12":0.0347,"m13":0.0347,"m14":0.0347,"m15":0.0347,"m16":0.0347},
{"t":0.0286,"e":0.0298,"lo":0.0286,"hi":0.031,"g":0.0262,"m1":0.0238,"m2":0.0328,"m3":0.0274,"m4":0.0283,"m5":0.0277,"m6":0.0277,"m7":0.0286,"m8":0.0286,"m9":0.0292,"m10":0.0292,"m11":0.0298,"m12":0.0298,"m13":0.0298,"m14":0.0298,"m15":0.0298,"m16":0.0298},
{"t":0.0291,"e":0.0265,"lo":0.0254,"hi":0.0276,"g":0.0236,"m1":0.0207,"m2":0.0292,"m3":0.0244,"m4":0.0252,"m5":0.0246,"m6":0.0246,"m7":0.0254,"m8":0.0254,"m9":0.026,"m10":0.026,"m11":0.0265,"m12":0.0265,"m13":0.0265,"m14":0.0265,"m15":0.0265,"m16":0.0265},
{"t":0.0296,"e":0.0215,"lo":0.0206,"hi":0.0224,"g":0.0194,"m1":0.0166,"m2":0.0237,"m3":0.0198,"m4":0.0204,"m5":0.02,"m6":0.02,"m7":0.0206,"m8":0.0206,"m9":0.0211,"m10":0.0211,"m11":0.0215,"m12":0.0215,"m13":0.0215,"m14":0.0215,"m15":0.0215,"m16":0.0215},
{"t":0.03,"e":0.0199,"lo":0.0191,"hi":0.0207,"g":0.018,"m1":0.0149,"m2":0.0219,"m3":0.0183,"m4":0.0189,"m5":0.0185,"m6":0.0185,"m7":0.0191,"m8":0.0191,"m9":0.0195,"m10":0.0195,"m11":0.0199,"m12":0.0199,"m13":0.0199,"m14":0.0199,"m15":0.0199,"m16":0.0199},
{"t":0.0304,"e":0.0224,"lo":0.0215,"hi":0.0233,"g":0.0202,"m1":0.0166,"m2":0.0246,"m3":0.0206,"m4":0.0213,"m5":0.0208,"m6":0.0208,"m7":0.0215,"m8":0.0215,"m9":0.022,"m10":0.022,"m11":0.0224,"m12":0.0224,"m13":0.0224,"m14":0.0224,"m15":0.0224,"m16":0.0224},
{"t":0.0307,"e":0.0199,"lo":0.0191,"hi":0.0207,"g":0.018,"m1":0.0147,"m2":0.0219,"m3":0.0183,"m4":0.0189,"m5":0.0185,"m6":0.0185,"m7":0.0191,"m8":0.0191,"m9":0.0195,"m10":0.0195,"m11":0.0199,"m12":0.0199,"m13":0.0199,"m14":0.0199,"m15":0.0199,"m16":0.0199},
{"t":0.0313,"e":0.024,"lo":0.023,"hi":0.025,"g":0.0218,"m1":0.0175,"m2":0.0264,"m3":0.0221,"m4":0.0228,"m5":0.0223,"m6":0.0223,"m7":0.023,"m8":0.023,"m9":0.0235,"m10":0.0235,"m11":0.024,"m12":0.024,"m13":0.024,"m14":0.024,"m15":0.024,"m16":0.024},
{"t":0.0318,"e":0.0306,"lo":0.0294,"hi":0.0318,"g":0.0278,"m1":0.0233,"m2":0.0337,"m3":0.0282,"m4":0.0291,"m5":0.0285,"m6":0.0285,"m7":0.0294,"m8":0.0294,"m9":0.03,"m10":0.03,"m11":0.0306,"m12":0.0306,"m13":0.0306,"m14":0.0306,"m15":0.0306,"m16":0.0306},
{"t":0.0323,"e":0.0224,"lo":0.0215,"hi":0.0233,"g":0.0204,"m1":0.0163,"m2":0.0246,"m3":0.0206,"m4":0.0213,"m5":0.0208,"m6":0.0208,"m7":0.0215,"m8":0.0215,"m9":0.022,"m10":0.022,"m11":0.0224,"m12":0.0224,"m13":0.0224,"m14":0.0224,"m15":0.0224,"m16":0.0224},
{"t":0.0328,"e":0.0215,"lo":0.0206,"hi":0.0224,"g":0.0196,"m1":0.0155,"m2":0.0237,"m3":0.0198,"m4":0.0204,"m5":0.02,"m6":0.02,"m7":0.0206,"m8":0.0206,"m9":0.0211,"m10":0.0211,"m11":0.0215,"m12":0.0215,"m13":0.0215,"m14":0.0215,"m15":0.0215,"m16":0.0215},
{"t":0.0333,"e":0.0224,"lo":0.0215,"hi":0.0233,"g":0.0204,"m1":0.0159,"m2":0.0246,"m3":0.0206,"m4":0.0213,"m5":0.0208,"m6":0.0208,"m7":0.0215,"m8":0.0215,"m9":0.022,"m10":0.022,"m11":0.0224,"m12":0.0224,"m13":0.0224,"m14":0.0224,"m15":0.0224,"m16":0.0224},
{"t":0.0338,"e":0.0215,"lo":0.0206,"hi":0.0224,"g":0.0196,"m1":0.015,"m2":0.0237,"m3":0.0198,"m4":0.0204,"m5":0.02,"m6":0.02,"m7":0.0206,"m8":0.0206,"m9":0.0211,"m10":0.0211,"m11":0.0215,"m12":0.0215,"m13":0.0215,"m14":0.0215,"m15":0.0215,"m16":0.0215},
{"t":0.0343,"e":0.0232,"lo":0.0223,"hi":0.0241,"g":0.0211,"m1":0.0158,"m2":0.0255,"m3":0.0213,"m4":0.022,"m5":0.0216,"m6":0.0216,"m7":0.0223,"m8":0.0223,"m9":0.0227,"m10":0.0227,"m11":0.0232,"m12":0.0232,"m13":0.0232,"m14":0.0232,"m15":0.0232,"m16":0.0232},
{"t":0.0349,"e":0.0289,"lo":0.0277,"hi":0.0301,"g":0.0263,"m1":0.0193,"m2":0.0318,"m3":0.0266,"m4":0.0275,"m5":0.0269,"m6":0.0269,"m7":0.0277,"m8":0.0277,"m9":0.0283,"m10":0.0283,"m11":0.0289,"m12":0.0289,"m13":0.0289,"m14":0.0289,"m15":0.0289,"m16":0.0289},
{"t":0.0354,"e":0.0306,"lo":0.0294,"hi":0.0318,"g":0.0278,"m1":0.0199,"m2":0.0337,"m3":0.0282,"m4":0.0291,"m5":0.0285,"m6":0.0285,"m7":0.0294,"m8":0.0294,"m9":0.03,"m10":0.03,"m11":0.0306,"m12":0.0306,"m13":0.0306,"m14":0.0306,"m15":0.0306,"m16":0.0306},
{"t":0.0358,"e":0.0265,"lo":0.0254,"hi":0.0276,"g":0.0241,"m1":0.017,"m2":0.0292,"m3":0.0244,"m4":0.0252,"m5":0.0246,"m6":0.0246,"m7":0.0254,"m8":0.0254,"m9":0.026,"m10":0.026,"m11":0.0265,"m12":0.0265,"m13":0.0265,"m14":0.0265,"m15":0.0265,"m16":0.0265},
{"t":0.0361,"e":0.0265,"lo":0.0254,"hi":0.0276,"g":0.0241,"m1":0.0164,"m2":0.0292,"m3":0.0244,"m4":0.0252,"m5":0.0246,"m6":0.0246,"m7":0.0254,"m8":0.0254,"m9":0.026,"m10":0.026,"m11":0.0265,"m12":0.0265,"m13":0.0265,"m14":0.0265,"m15":0.0265,"m16":0.0265},
{"t":0.0367,"e":0.0207,"lo":0.0199,"hi":0.0215,"g":0.0188,"m1":0.0122,"m2":0.0228,"m3":0.019,"m4":0.0197,"m5":0.0193,"m6":0.0193,"m7":0.0199,"m8":0.0199,"m9":0.0203,"m10":0.0203,"m11":0.0207,"m12":0.0207,"m13":0.0207,"m14":0.0207,"m15":0.0207,"m16":0.0207},
{"t":0.0372,"e":0.0149,"lo":0.0143,"hi":0.0155,"g":0.0136,"m1":0.0075,"m2":0.0175,"m3":0.0137,"m4":0.0142,"m5":0.0139,"m6":0.0139,"m7":0.0143,"m8":0.0143,"m9":0.0146,"m10":0.0146,"m11":0.0149,"m12":0.0149,"m13":0.0149,"m14":0.0149,"m15":0.0149,"m16":0.0149},
{"t":0.0377,"e":0.0141,"lo":0.0135,"hi":0.0147,"g":0.0128,"m1":0.0062,"m2":0.0169,"m3":0.013,"m4":0.0134,"m5":0.0131,"m6":0.0131,"m7":0.0135,"m8":0.0135,"m9":0.0138,"m10":0.0138,"m11":0.0141,"m12":0.0141,"m13":0.0141,"m14":0.0141,"m15":0.0141,"m16":0.0141},
{"t":0.0381,"e":0.0158,"lo":0.0152,"hi":0.0164,"g":0.0144,"m1":0.0071,"m2":0.0188,"m3":0.0145,"m4":0.015,"m5":0.0147,"m6":0.0147,"m7":0.0152,"m8":0.0152,"m9":0.0155,"m10":0.0155,"m11":0.0158,"m12":0.0158,"m13":0.0158,"m14":0.0158,"m15":0.0158,"m16":0.0158},
{"t":0.0384,"e":0.0141,"lo":0.0135,"hi":0.0147,"g":0.0128,"m1":0.0058,"m2":0.0176,"m3":0.013,"m4":0.0134,"m5":0.0131,"m6":0.0131,"m7":0.0135,"m8":0.0135,"m9":0.0138,"m10":0.0138,"m11":0.0141,"m12":0.0141,"m13":0.0141,"m14":0.0141,"m15":0.0141,"m16":0.0141}
]},
"transform":[{"fold":["m1","m2","m3","m4","m5","m6","m7","m8","m9","m10","m11","m12","m13","m14","m15","m16","g","lo","hi","e"],"as":["s","v"]}],
"encoding":{
"x":{"field":"t","type":"quantitative","scale":{"domain":[-0.001925,0.040425],"nice":false,"zero":false},"axis":{"values":[0,0.005,0.01,0.015,0.02,0.025,0.03,0.035,0.04],"format":".3f","title":"t"}},
"y":{"field":"v","type":"quantitative","scale":{"domain":[0.00687,0.0889],"nice":false,"zero":false},"axis":{"values":[0.01,0.02,0.03,0.04,0.05,0.06,0.07,0.08],"format":".2f","title":null}},
"color":{"field":"s","type":"nominal","scale":{"domain":["e","lo","hi","g","sp","tt","m1","m2","m3","m4","m5","m6","m7","m8","m9","m10","m11","m12","m13","m14","m15","m16"],"range":["#000000","#000000","#000000","#808080","rgba(0,0,0,0)","rgba(0,0,0,0)","#ffff00","#ffee00","#ffdd00","#ffcc00","#ffbb00","#ffaa00","#ff9900","#ff8800","#ff7700","#ff6600","#ff5500","#ff4400","#ff3300","#ff2200","#ff1100","#ff0000"]},
"legend":{"title":null,"orient":"top-right","values":["g","e","lo","sp","tt","m1","m8","m16"],"labelExpr":"datum.label=='g'?'Yₜ⁴':datum.label=='e'?'𝔼[Y_T⁴|ℱₜ]':datum.label=='lo'?'CI [2.5%, 97.5%]':datum.label=='sp'?'':datum.label=='tt'?'⟨(ℓᵛᴼᴸ)⧢⁴, (𝕎̂ₜ ⊗ ℰ_T₋ₜ)≤ᴹ⟩':datum.label=='m8'?'⋯':datum.label=='m1'?'M=1':datum.label=='m16'?'M=16':datum.label"}},
"strokeDash":{"field":"s","type":"nominal","scale":{"domain":["e","lo","hi","g","sp","tt","m1","m2","m3","m4","m5","m6","m7","m8","m9","m10","m11","m12","m13","m14","m15","m16"],"range":[[5,3],[1,2],[1,2],[1,0],[1,0],[1,0],[1,0],[1,0],[1,0],[1,0],[1,0],[1,0],[1,0],[1,0],[1,0],[1,0],[1,0],[1,0],[1,0],[1,0],[1,0],[1,0]]},
"legend":{"title":null,"orient":"top-right","values":["g","e","lo","sp","tt","m1","m8","m16"],"labelExpr":"datum.label=='g'?'Yₜ⁴':datum.label=='e'?'𝔼[Y_T⁴|ℱₜ]':datum.label=='lo'?'CI [2.5%, 97.5%]':datum.label=='sp'?'':datum.label=='tt'?'⟨(ℓᵛᴼᴸ)⧢⁴, (𝕎̂ₜ ⊗ ℰ_T₋ₜ)≤ᴹ⟩':datum.label=='m8'?'⋯':datum.label=='m1'?'M=1':datum.label=='m16'?'M=16':datum.label"}}
},
"layer":[
{"transform":[{"filter":{"field":"s","oneOf":["m1","m2","m3","m4","m5","m6","m7","m8","m9","m10","m11","m12","m13","m14","m15","m16"]}}],"mark":{"type":"line","clip":true,"strokeWidth":1.2}},
{"transform":[{"filter":{"field":"s","oneOf":["g"]}}],"mark":{"type":"line","clip":true,"strokeWidth":1.2,"color":"#808080"},"encoding":{"color":{"value":"#808080"},"strokeDash":{"value":[1,0]}}},
{"transform":[{"filter":{"field":"s","oneOf":["lo","hi","e"]}}],"mark":{"type":"line","clip":true,"strokeWidth":1.3}}
]}
],"spacing":37}
]
}
